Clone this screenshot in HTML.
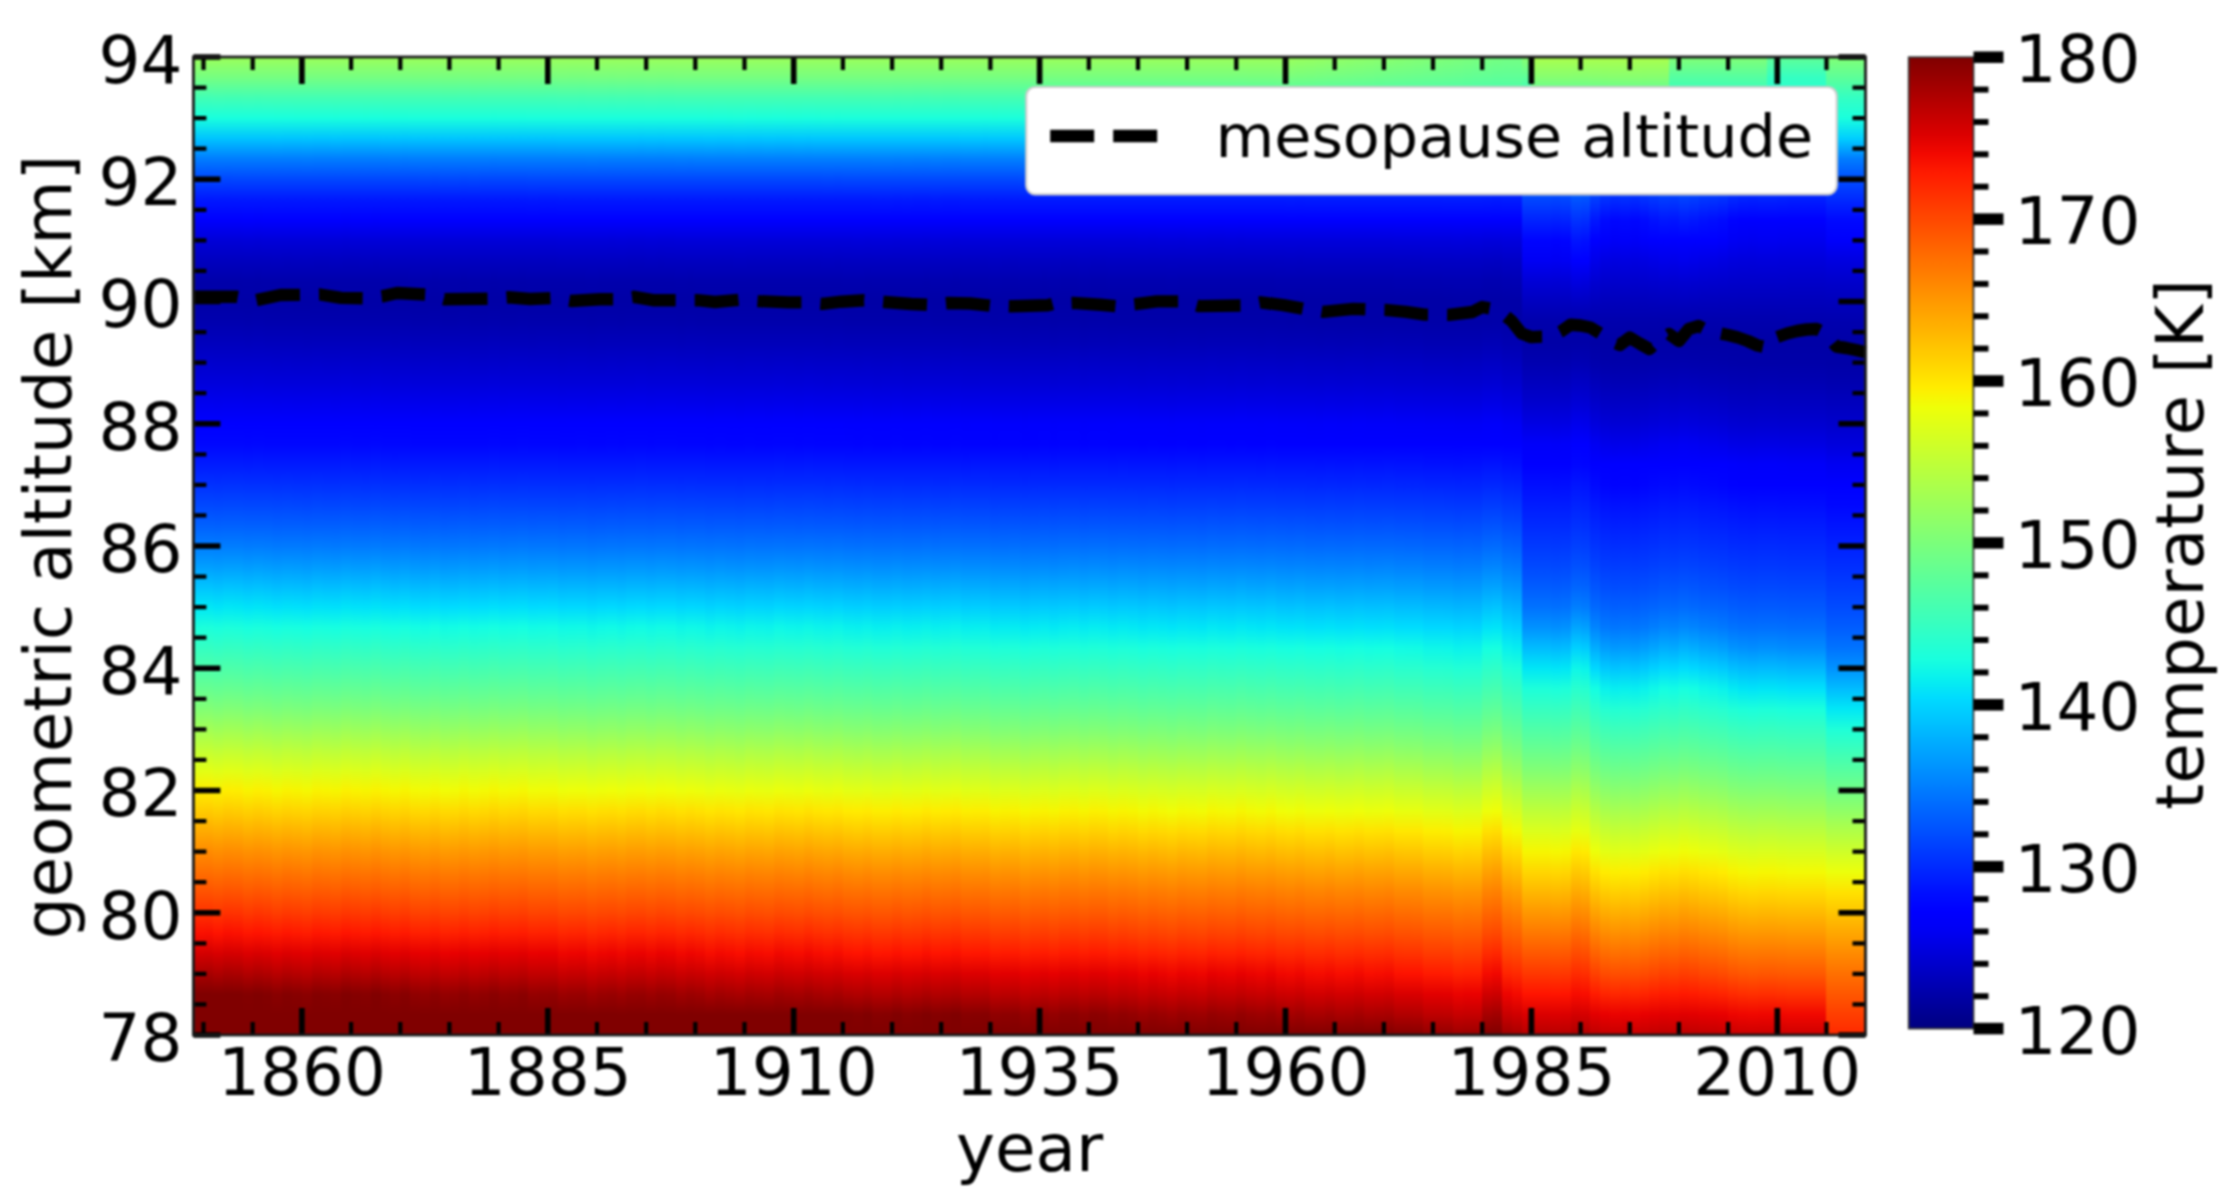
<!DOCTYPE html>
<html><head><meta charset="utf-8"><title>mesopause altitude</title>
<style>html,body{margin:0;padding:0;background:#fff;overflow:hidden}#w{position:relative;width:2228px;height:1203px;overflow:hidden;background:#fff;filter:blur(0.95px)}#h{position:absolute;left:0;top:57.0px;height:978.0px}#h i{position:absolute;top:0;height:100%;display:block}svg{position:absolute;left:0;top:0;display:block}text{font-family:"DejaVu Sans","Liberation Sans",sans-serif;fill:#000}</style></head>
<body>
<div id="w">
<div id="h">
<i style="left:193.70px;width:10.64px;background:linear-gradient(#9cff5a,#76ff81,#42ffb4,#19ffde,#00c4ff,#007dff,#0047ff,#0018ff,#0000fe,#0000d8,#0000bf,#0000ab,#0000a7,#0000af,#0000bd,#0000cc,#0000dc,#0000ef,#0000ff,#0007ff,#001bff,#0031ff,#0048ff,#0061ff,#007dff,#009eff,#00c3ff,#01e7f6,#1bffdb,#34ffc3,#4dffaa,#66ff91,#81ff75,#a1ff56,#c2ff35,#e0ff16,#feed00,#ffcc00,#ffab00,#ff8c00,#ff6f00,#ff5200,#ff3200,#fb1000,#d40000,#a80000,#800000,#800000,#800000)"></i>
<i style="left:203.54px;width:10.64px;background:linear-gradient(#9cff5a,#76ff81,#42ffb5,#19ffde,#00c4ff,#007dff,#0046ff,#0018ff,#0000fe,#0000d8,#0000bf,#0000ab,#0000a7,#0000af,#0000bd,#0000cd,#0000dc,#0000ef,#0000ff,#0007ff,#001bff,#0031ff,#0048ff,#0061ff,#007dff,#009eff,#00c3ff,#01e7f5,#1cffdb,#34ffc2,#4dffaa,#66ff91,#82ff75,#a2ff55,#c2ff34,#e1ff16,#ffed00,#ffcb00,#ffab00,#ff8b00,#ff6f00,#ff5200,#ff3200,#fa0f00,#d30000,#a70000,#800000,#800000,#800000)"></i>
<i style="left:213.38px;width:10.64px;background:linear-gradient(#9cff5a,#76ff81,#43ffb4,#19ffde,#00c4ff,#007dff,#0047ff,#0018ff,#0000fe,#0000d8,#0000bf,#0000ab,#0000a7,#0000af,#0000bd,#0000cc,#0000dc,#0000ee,#0000ff,#0007ff,#001bff,#0030ff,#0047ff,#0060ff,#007cff,#009cff,#00c0ff,#00e4f8,#1affdd,#32ffc5,#4bffac,#64ff93,#7fff78,#9eff58,#bfff38,#deff19,#fbf000,#ffcf00,#ffae00,#ff8f00,#ff7200,#ff5500,#ff3600,#ff1300,#d80000,#ae0000,#800000,#800000,#800000)"></i>
<i style="left:223.21px;width:10.64px;background:linear-gradient(#9cff5a,#76ff81,#42ffb4,#19ffde,#00c4ff,#007dff,#0046ff,#0018ff,#0000fe,#0000d8,#0000bf,#0000ab,#0000a7,#0000af,#0000bd,#0000cc,#0000dc,#0000ef,#0000ff,#0007ff,#001bff,#0031ff,#0048ff,#0061ff,#007dff,#009eff,#00c3ff,#01e7f6,#1cffdb,#34ffc2,#4dffaa,#66ff91,#82ff75,#a1ff55,#c2ff35,#e1ff16,#feed00,#ffcb00,#ffab00,#ff8c00,#ff6f00,#ff5200,#ff3200,#fb0f00,#d40000,#a80000,#800000,#800000,#800000)"></i>
<i style="left:233.05px;width:10.64px;background:linear-gradient(#9cff5a,#76ff81,#42ffb4,#19ffde,#00c4ff,#007dff,#0047ff,#0018ff,#0000fe,#0000d8,#0000bf,#0000ab,#0000a7,#0000af,#0000bd,#0000cc,#0000dc,#0000ef,#0000ff,#0007ff,#001bff,#0031ff,#0048ff,#0061ff,#007dff,#009eff,#00c2ff,#00e6f6,#1bffdc,#34ffc3,#4cffab,#65ff92,#81ff76,#a0ff56,#c1ff36,#e0ff17,#fdee00,#ffcd00,#ffac00,#ff8d00,#ff7000,#ff5300,#ff3300,#fc1100,#d50000,#aa0000,#800000,#800000,#800000)"></i>
<i style="left:242.88px;width:10.64px;background:linear-gradient(#9cff5a,#76ff81,#43ffb4,#19ffde,#00c4ff,#007dff,#0047ff,#0018ff,#0000ff,#0000d9,#0000bf,#0000ac,#0000a7,#0000ae,#0000bc,#0000cc,#0000db,#0000ee,#0000ff,#0006ff,#001aff,#0030ff,#0047ff,#0060ff,#007bff,#009bff,#00bfff,#00e3f9,#18ffdf,#31ffc6,#49ffae,#62ff95,#7dff7a,#9cff5b,#bdff3a,#dcff1b,#f9f300,#ffd100,#ffb100,#ff9100,#ff7400,#ff5800,#ff3900,#ff1600,#dc0000,#b20000,#830000,#800000,#800000)"></i>
<i style="left:252.72px;width:10.64px;background:linear-gradient(#9cff5a,#76ff81,#42ffb4,#19ffde,#00c4ff,#007dff,#0047ff,#0018ff,#0000fe,#0000d8,#0000bf,#0000ab,#0000a7,#0000af,#0000bd,#0000cc,#0000dc,#0000ee,#0000ff,#0007ff,#001bff,#0030ff,#0047ff,#0060ff,#007cff,#009dff,#00c1ff,#00e5f7,#1affdd,#32ffc4,#4bffac,#64ff93,#7fff78,#9fff58,#bfff37,#deff19,#fcf000,#ffce00,#ffae00,#ff8f00,#ff7200,#ff5500,#ff3500,#ff1300,#d80000,#ad0000,#800000,#800000,#800000)"></i>
<i style="left:262.56px;width:10.64px;background:linear-gradient(#9cff5a,#76ff81,#43ffb4,#19ffde,#00c4ff,#007dff,#0047ff,#0018ff,#0000ff,#0000d9,#0000bf,#0000ac,#0000a7,#0000ae,#0000bc,#0000cc,#0000db,#0000ee,#0000ff,#0006ff,#001aff,#0030ff,#0047ff,#0060ff,#007bff,#009bff,#00bfff,#00e3f9,#18ffde,#31ffc6,#49ffad,#62ff94,#7dff79,#9cff5a,#bdff3a,#dcff1b,#faf200,#ffd100,#ffb000,#ff9100,#ff7400,#ff5700,#ff3800,#ff1600,#db0000,#b10000,#830000,#800000,#800000)"></i>
<i style="left:272.39px;width:10.64px;background:linear-gradient(#9cff5a,#76ff81,#43ffb4,#19ffdd,#00c5ff,#007dff,#0047ff,#0018ff,#0000ff,#0000d9,#0000c0,#0000ac,#0000a6,#0000ae,#0000bc,#0000cb,#0000db,#0000ed,#0000ff,#0006ff,#001aff,#002fff,#0046ff,#005eff,#0079ff,#0099ff,#00bcff,#00e0fb,#16ffe1,#2fffc8,#47ffb0,#60ff97,#7aff7d,#99ff5e,#b9ff3d,#d8ff1f,#f6f701,#ffd500,#ffb400,#ff9500,#ff7800,#ff5b00,#ff3d00,#ff1a00,#e10000,#b80000,#890000,#800000,#800000)"></i>
<i style="left:282.23px;width:10.64px;background:linear-gradient(#9cff5a,#76ff81,#43ffb4,#19ffde,#00c4ff,#007dff,#0047ff,#0018ff,#0000ff,#0000d9,#0000bf,#0000ac,#0000a7,#0000ae,#0000bc,#0000cc,#0000db,#0000ee,#0000ff,#0006ff,#001aff,#0030ff,#0047ff,#005fff,#007aff,#009bff,#00beff,#00e2f9,#18ffdf,#31ffc6,#49ffae,#62ff95,#7dff7a,#9cff5b,#bdff3a,#dbff1c,#f9f300,#ffd200,#ffb100,#ff9200,#ff7400,#ff5800,#ff3900,#ff1600,#dc0000,#b20000,#840000,#800000,#800000)"></i>
<i style="left:292.06px;width:10.64px;background:linear-gradient(#9cff5a,#76ff81,#43ffb4,#19ffdd,#00c4ff,#007dff,#0047ff,#0018ff,#0000ff,#0000d9,#0000c0,#0000ac,#0000a6,#0000ae,#0000bc,#0000cb,#0000db,#0000ed,#0000ff,#0006ff,#001aff,#002fff,#0046ff,#005fff,#007aff,#009aff,#00bdff,#00e1fb,#17ffe0,#2fffc7,#48ffaf,#60ff96,#7bff7c,#9aff5d,#bbff3c,#d9ff1d,#f7f500,#ffd400,#ffb300,#ff9400,#ff7600,#ff5a00,#ff3b00,#ff1900,#df0000,#b60000,#870000,#800000,#800000)"></i>
<i style="left:301.90px;width:10.64px;background:linear-gradient(#9cff5a,#76ff81,#43ffb4,#19ffdd,#00c5ff,#007eff,#0047ff,#0018ff,#0000ff,#0000d9,#0000c0,#0000ac,#0000a6,#0000ae,#0000bb,#0000cb,#0000db,#0000ed,#0000ff,#0006ff,#001aff,#002fff,#0045ff,#005eff,#0079ff,#0098ff,#00bbff,#00dffc,#15ffe2,#2effc9,#46ffb1,#5fff98,#79ff7d,#98ff5f,#b8ff3e,#d7ff20,#f5f802,#ffd600,#ffb600,#ff9600,#ff7900,#ff5c00,#ff3e00,#ff1c00,#e20000,#ba0000,#8b0000,#800000,#800000)"></i>
<i style="left:311.74px;width:10.64px;background:linear-gradient(#9cff5a,#76ff81,#43ffb4,#19ffde,#00c4ff,#007dff,#0047ff,#0018ff,#0000ff,#0000d9,#0000bf,#0000ac,#0000a7,#0000ae,#0000bc,#0000cc,#0000db,#0000ee,#0000ff,#0006ff,#001aff,#0030ff,#0047ff,#005fff,#007bff,#009bff,#00bfff,#00e2f9,#18ffdf,#31ffc6,#49ffae,#62ff95,#7dff7a,#9cff5b,#bdff3a,#dbff1b,#f9f300,#ffd200,#ffb100,#ff9100,#ff7400,#ff5800,#ff3900,#ff1600,#dc0000,#b20000,#840000,#800000,#800000)"></i>
<i style="left:321.57px;width:10.64px;background:linear-gradient(#9cff5a,#76ff81,#43ffb4,#19ffde,#00c4ff,#007dff,#0047ff,#0018ff,#0000ff,#0000d9,#0000bf,#0000ac,#0000a6,#0000ae,#0000bc,#0000cb,#0000db,#0000ee,#0000ff,#0006ff,#001aff,#002fff,#0046ff,#005fff,#007aff,#009aff,#00bdff,#00e1fa,#17ffe0,#30ffc7,#48ffaf,#61ff96,#7cff7b,#9bff5c,#bbff3c,#daff1d,#f8f500,#ffd300,#ffb200,#ff9300,#ff7600,#ff5900,#ff3b00,#ff1800,#de0000,#b50000,#860000,#800000,#800000)"></i>
<i style="left:331.41px;width:10.64px;background:linear-gradient(#9cff5a,#76ff81,#43ffb4,#19ffdd,#00c5ff,#007dff,#0047ff,#0018ff,#0000ff,#0000d9,#0000c0,#0000ac,#0000a6,#0000ae,#0000bc,#0000cb,#0000db,#0000ed,#0000ff,#0006ff,#001aff,#002fff,#0046ff,#005fff,#0079ff,#0099ff,#00bdff,#00e0fb,#16ffe1,#2fffc8,#47ffb0,#60ff97,#7bff7c,#99ff5d,#baff3d,#d9ff1e,#f6f600,#ffd400,#ffb400,#ff9400,#ff7700,#ff5b00,#ff3c00,#ff1a00,#e00000,#b70000,#880000,#800000,#800000)"></i>
<i style="left:341.24px;width:10.64px;background:linear-gradient(#9cff5a,#76ff81,#43ffb4,#19ffde,#00c4ff,#007dff,#0047ff,#0018ff,#0000fe,#0000d8,#0000bf,#0000ac,#0000a7,#0000ae,#0000bc,#0000cc,#0000dc,#0000ee,#0000ff,#0007ff,#001bff,#0030ff,#0047ff,#0060ff,#007bff,#009cff,#00c0ff,#00e4f8,#19ffde,#32ffc5,#4affad,#63ff94,#7eff78,#9eff59,#beff38,#ddff1a,#fbf100,#ffd000,#ffaf00,#ff9000,#ff7300,#ff5600,#ff3700,#ff1400,#d90000,#af0000,#810000,#800000,#800000)"></i>
<i style="left:351.08px;width:10.64px;background:linear-gradient(#9cff5a,#76ff81,#43ffb4,#19ffde,#00c4ff,#007dff,#0047ff,#0018ff,#0000ff,#0000d9,#0000bf,#0000ac,#0000a7,#0000ae,#0000bc,#0000cb,#0000db,#0000ee,#0000ff,#0006ff,#001aff,#0030ff,#0046ff,#005fff,#007aff,#009aff,#00beff,#00e2fa,#18ffdf,#30ffc6,#49ffae,#62ff95,#7cff7a,#9bff5b,#bcff3b,#dbff1c,#f9f400,#ffd200,#ffb100,#ff9200,#ff7500,#ff5800,#ff3900,#ff1700,#dd0000,#b30000,#850000,#800000,#800000)"></i>
<i style="left:360.92px;width:10.64px;background:linear-gradient(#9cff5a,#76ff81,#43ffb4,#19ffdd,#00c4ff,#007dff,#0047ff,#0018ff,#0000ff,#0000d9,#0000c0,#0000ac,#0000a6,#0000ae,#0000bc,#0000cb,#0000db,#0000ed,#0000ff,#0006ff,#001aff,#002fff,#0046ff,#005fff,#007aff,#009aff,#00bdff,#00e1fb,#17ffe0,#2fffc7,#48ffaf,#60ff96,#7bff7b,#9aff5d,#bbff3c,#d9ff1d,#f7f500,#ffd400,#ffb300,#ff9400,#ff7600,#ff5a00,#ff3b00,#ff1900,#df0000,#b60000,#870000,#800000,#800000)"></i>
<i style="left:370.75px;width:10.64px;background:linear-gradient(#9cff5a,#76ff81,#43ffb4,#19ffde,#00c4ff,#007dff,#0047ff,#0018ff,#0000fe,#0000d9,#0000bf,#0000ac,#0000a7,#0000ae,#0000bc,#0000cc,#0000dc,#0000ee,#0000ff,#0007ff,#001bff,#0030ff,#0047ff,#0060ff,#007bff,#009cff,#00c0ff,#00e3f8,#19ffde,#32ffc5,#4affad,#63ff94,#7eff79,#9dff5a,#beff39,#ddff1a,#faf200,#ffd000,#ffaf00,#ff9000,#ff7300,#ff5700,#ff3700,#ff1500,#da0000,#b00000,#810000,#800000,#800000)"></i>
<i style="left:380.59px;width:10.64px;background:linear-gradient(#9cff5a,#76ff81,#43ffb4,#19ffdd,#00c5ff,#007dff,#0047ff,#0018ff,#0000ff,#0000d9,#0000c0,#0000ac,#0000a6,#0000ae,#0000bc,#0000cb,#0000db,#0000ed,#0000ff,#0006ff,#001aff,#002fff,#0046ff,#005fff,#0079ff,#0099ff,#00bdff,#00e0fb,#16ffe0,#2fffc8,#47ffb0,#60ff97,#7bff7c,#99ff5d,#baff3d,#d9ff1e,#f7f600,#ffd400,#ffb400,#ff9400,#ff7700,#ff5b00,#ff3c00,#ff1900,#e00000,#b70000,#880000,#800000,#800000)"></i>
<i style="left:390.42px;width:10.64px;background:linear-gradient(#9cff5a,#76ff81,#43ffb4,#19ffdd,#00c5ff,#007eff,#0047ff,#0018ff,#0000ff,#0000d9,#0000c0,#0000ac,#0000a6,#0000ae,#0000bb,#0000cb,#0000da,#0000ed,#0000ff,#0006ff,#0019ff,#002fff,#0045ff,#005eff,#0079ff,#0098ff,#00bbff,#00dffc,#15ffe2,#2effc9,#46ffb1,#5fff98,#79ff7e,#98ff5f,#b8ff3e,#d7ff20,#f5f802,#ffd600,#ffb600,#ff9600,#ff7900,#ff5c00,#ff3e00,#ff1c00,#e20000,#ba0000,#8c0000,#800000,#800000)"></i>
<i style="left:400.26px;width:10.64px;background:linear-gradient(#9cff5a,#76ff81,#43ffb4,#19ffdd,#00c4ff,#007dff,#0047ff,#0018ff,#0000ff,#0000d9,#0000c0,#0000ac,#0000a6,#0000ae,#0000bc,#0000cb,#0000db,#0000ed,#0000ff,#0006ff,#001aff,#002fff,#0046ff,#005fff,#007aff,#009aff,#00bdff,#00e1fb,#17ffe0,#2fffc7,#48ffaf,#60ff96,#7bff7c,#9aff5d,#bbff3c,#d9ff1d,#f7f500,#ffd400,#ffb300,#ff9400,#ff7600,#ff5a00,#ff3b00,#ff1900,#df0000,#b60000,#870000,#800000,#800000)"></i>
<i style="left:410.10px;width:10.64px;background:linear-gradient(#9cff5a,#76ff80,#43ffb4,#1affdd,#00c5ff,#007eff,#0047ff,#0018ff,#0000ff,#0000d9,#0000c0,#0000ad,#0000a6,#0000ad,#0000bb,#0000ca,#0000da,#0000ed,#0000ff,#0005ff,#0019ff,#002eff,#0045ff,#005dff,#0078ff,#0097ff,#00baff,#00ddfe,#14fee3,#2cffca,#45ffb2,#5dff9a,#78ff7f,#96ff61,#b6ff41,#d5ff22,#f3fa04,#ffd900,#ffb800,#ff9800,#ff7b00,#ff5f00,#ff4100,#ff1f00,#e50000,#be0000,#900000,#800000,#800000)"></i>
<i style="left:419.93px;width:10.64px;background:linear-gradient(#9cff5a,#76ff80,#43ffb4,#1affdd,#00c5ff,#007eff,#0048ff,#0018ff,#0000ff,#0000d9,#0000c0,#0000ad,#0000a6,#0000ad,#0000bb,#0000ca,#0000da,#0000ec,#0000ff,#0005ff,#0019ff,#002eff,#0045ff,#005dff,#0077ff,#0096ff,#00b9ff,#00dcfe,#13fde4,#2cffcb,#44ffb3,#5cff9b,#77ff80,#94ff62,#b5ff42,#d4ff23,#f2fb05,#ffda00,#ffb900,#ff9a00,#ff7c00,#ff6000,#ff4200,#ff2000,#e70000,#c00000,#920000,#800000,#800000)"></i>
<i style="left:429.77px;width:10.64px;background:linear-gradient(#9cff5a,#76ff81,#43ffb4,#1affdd,#00c5ff,#007eff,#0047ff,#0018ff,#0000ff,#0000d9,#0000c0,#0000ac,#0000a6,#0000ae,#0000bb,#0000cb,#0000da,#0000ed,#0000ff,#0005ff,#0019ff,#002fff,#0045ff,#005eff,#0078ff,#0098ff,#00bbff,#00defd,#15ffe2,#2dffc9,#46ffb1,#5eff99,#79ff7e,#97ff60,#b8ff3f,#d6ff20,#f4f903,#ffd700,#ffb600,#ff9700,#ff7900,#ff5d00,#ff3f00,#ff1d00,#e30000,#bb0000,#8d0000,#800000,#800000)"></i>
<i style="left:439.60px;width:10.64px;background:linear-gradient(#9cff5a,#76ff80,#43ffb3,#1affdd,#00c5ff,#007eff,#0048ff,#0018ff,#0000ff,#0000d9,#0000c0,#0000ad,#0000a6,#0000ad,#0000bb,#0000ca,#0000da,#0000ec,#0000ff,#0005ff,#0019ff,#002eff,#0044ff,#005cff,#0077ff,#0095ff,#00b8ff,#00dbff,#12fce4,#2bffcc,#43ffb4,#5bff9b,#76ff81,#93ff64,#b4ff43,#d3ff24,#f1fd06,#ffdb00,#ffbb00,#ff9b00,#ff7d00,#ff6100,#ff4300,#ff2200,#e90100,#c20000,#940000,#800000,#800000)"></i>
<i style="left:449.44px;width:10.64px;background:linear-gradient(#9cff5a,#76ff80,#43ffb3,#1affdd,#00c5ff,#007eff,#0048ff,#0018ff,#0000ff,#0000d9,#0000c0,#0000ad,#0000a6,#0000ad,#0000bb,#0000ca,#0000da,#0000ec,#0000ff,#0005ff,#0019ff,#002eff,#0044ff,#005dff,#0077ff,#0096ff,#00b8ff,#00dcff,#13fde4,#2bffcc,#43ffb4,#5cff9b,#76ff81,#94ff63,#b4ff42,#d3ff24,#f1fc06,#ffdb00,#ffba00,#ff9a00,#ff7d00,#ff6100,#ff4300,#ff2100,#e80000,#c10000,#930000,#800000,#800000)"></i>
<i style="left:459.28px;width:10.64px;background:linear-gradient(#9cff5a,#76ff81,#43ffb4,#1affdd,#00c5ff,#007eff,#0047ff,#0018ff,#0000ff,#0000d9,#0000c0,#0000ac,#0000a6,#0000ae,#0000bb,#0000cb,#0000da,#0000ed,#0000ff,#0005ff,#0019ff,#002fff,#0045ff,#005eff,#0078ff,#0098ff,#00bbff,#00defd,#15ffe2,#2dffc9,#46ffb1,#5eff98,#79ff7e,#97ff60,#b8ff3f,#d7ff20,#f4f802,#ffd700,#ffb600,#ff9700,#ff7900,#ff5d00,#ff3f00,#ff1d00,#e30000,#bb0000,#8d0000,#800000,#800000)"></i>
<i style="left:469.11px;width:10.64px;background:linear-gradient(#9cff5a,#76ff80,#43ffb3,#1affdd,#00c5ff,#007eff,#0048ff,#0018ff,#0000ff,#0000d9,#0000c0,#0000ad,#0000a6,#0000ad,#0000bb,#0000ca,#0000da,#0000ec,#0000ff,#0005ff,#0019ff,#002eff,#0044ff,#005dff,#0077ff,#0096ff,#00b9ff,#00dcff,#13fde4,#2bffcb,#43ffb3,#5cff9b,#76ff81,#94ff63,#b5ff42,#d4ff23,#f1fc06,#ffdb00,#ffba00,#ff9a00,#ff7c00,#ff6000,#ff4300,#ff2100,#e80000,#c10000,#930000,#800000,#800000)"></i>
<i style="left:478.95px;width:10.64px;background:linear-gradient(#9cff5a,#76ff80,#43ffb4,#1affdd,#00c5ff,#007eff,#0047ff,#0018ff,#0000ff,#0000d9,#0000c0,#0000ad,#0000a6,#0000ad,#0000bb,#0000ca,#0000da,#0000ed,#0000ff,#0005ff,#0019ff,#002eff,#0045ff,#005dff,#0078ff,#0097ff,#00baff,#00ddfe,#14fee3,#2cffca,#44ffb2,#5dff9a,#77ff7f,#95ff61,#b6ff41,#d5ff22,#f3fa04,#ffd900,#ffb800,#ff9800,#ff7b00,#ff5f00,#ff4100,#ff1f00,#e60000,#be0000,#900000,#800000,#800000)"></i>
<i style="left:488.78px;width:10.64px;background:linear-gradient(#9cff5a,#76ff81,#43ffb4,#19ffdd,#00c5ff,#007dff,#0047ff,#0018ff,#0000ff,#0000d9,#0000c0,#0000ac,#0000a6,#0000ae,#0000bc,#0000cb,#0000db,#0000ed,#0000ff,#0006ff,#001aff,#002fff,#0046ff,#005eff,#0079ff,#0099ff,#00bcff,#00e0fc,#16ffe1,#2effc8,#47ffb0,#5fff97,#7aff7d,#98ff5e,#b9ff3e,#d8ff1f,#f6f701,#ffd500,#ffb500,#ff9500,#ff7800,#ff5c00,#ff3d00,#ff1b00,#e10000,#b80000,#8a0000,#800000,#800000)"></i>
<i style="left:498.62px;width:10.64px;background:linear-gradient(#9cff5a,#76ff80,#43ffb4,#1affdd,#00c5ff,#007eff,#0047ff,#0018ff,#0000ff,#0000d9,#0000c0,#0000ad,#0000a6,#0000ad,#0000bb,#0000ca,#0000da,#0000ec,#0000ff,#0005ff,#0019ff,#002eff,#0045ff,#005dff,#0077ff,#0096ff,#00b9ff,#00ddfe,#13fee3,#2cffcb,#44ffb3,#5dff9a,#77ff80,#95ff62,#b6ff41,#d4ff22,#f2fb05,#ffda00,#ffb900,#ff9900,#ff7b00,#ff5f00,#ff4100,#ff1f00,#e60000,#bf0000,#910000,#800000,#800000)"></i>
<i style="left:508.46px;width:10.64px;background:linear-gradient(#9cff5a,#76ff80,#43ffb4,#1affdd,#00c5ff,#007eff,#0047ff,#0018ff,#0000ff,#0000d9,#0000c0,#0000ad,#0000a6,#0000ad,#0000bb,#0000cb,#0000da,#0000ed,#0000ff,#0005ff,#0019ff,#002eff,#0045ff,#005dff,#0078ff,#0097ff,#00baff,#00defd,#14fee3,#2dffca,#45ffb2,#5eff99,#78ff7f,#96ff61,#b7ff40,#d6ff21,#f3fa03,#ffd800,#ffb700,#ff9800,#ff7a00,#ff5e00,#ff4000,#ff1e00,#e50000,#bd0000,#8f0000,#800000,#800000)"></i>
<i style="left:518.29px;width:10.64px;background:linear-gradient(#9cff5a,#76ff81,#43ffb4,#19ffdd,#00c5ff,#007eff,#0047ff,#0018ff,#0000ff,#0000d9,#0000c0,#0000ac,#0000a6,#0000ae,#0000bb,#0000cb,#0000da,#0000ed,#0000ff,#0006ff,#0019ff,#002fff,#0045ff,#005eff,#0079ff,#0098ff,#00bbff,#00dffc,#15ffe2,#2effc9,#46ffb1,#5fff98,#79ff7d,#98ff5f,#b8ff3e,#d7ff20,#f5f802,#ffd600,#ffb600,#ff9600,#ff7900,#ff5c00,#ff3e00,#ff1c00,#e20000,#ba0000,#8b0000,#800000,#800000)"></i>
<i style="left:528.13px;width:10.64px;background:linear-gradient(#9cff5a,#76ff80,#43ffb3,#1affdd,#00c5ff,#007eff,#0048ff,#0019ff,#0000ff,#0000d9,#0000c0,#0000ad,#0000a6,#0000ad,#0000ba,#0000ca,#0000da,#0000ec,#0000ff,#0005ff,#0019ff,#002eff,#0044ff,#005cff,#0077ff,#0095ff,#00b8ff,#00dbff,#12fce5,#2bffcc,#43ffb4,#5bff9c,#75ff81,#93ff64,#b4ff43,#d2ff24,#f0fd07,#ffdc00,#ffbb00,#ff9b00,#ff7d00,#ff6100,#ff4400,#ff2200,#e90100,#c20000,#950000,#800000,#800000)"></i>
<i style="left:537.96px;width:10.64px;background:linear-gradient(#9cff5a,#76ff80,#43ffb3,#1affdd,#00c5ff,#007eff,#0048ff,#0018ff,#0000ff,#0000d9,#0000c0,#0000ad,#0000a6,#0000ad,#0000bb,#0000ca,#0000da,#0000ec,#0000ff,#0005ff,#0019ff,#002eff,#0044ff,#005dff,#0077ff,#0096ff,#00b8ff,#00dcff,#13fce4,#2bffcc,#43ffb4,#5cff9b,#76ff81,#94ff63,#b4ff43,#d3ff24,#f1fc06,#ffdb00,#ffba00,#ff9a00,#ff7d00,#ff6100,#ff4300,#ff2100,#e80000,#c10000,#930000,#800000,#800000)"></i>
<i style="left:547.80px;width:10.64px;background:linear-gradient(#9cff5a,#76ff80,#43ffb4,#1affdd,#00c5ff,#007eff,#0048ff,#0018ff,#0000ff,#0000d9,#0000c0,#0000ad,#0000a6,#0000ad,#0000bb,#0000ca,#0000da,#0000ec,#0000ff,#0005ff,#0019ff,#002eff,#0044ff,#005dff,#0077ff,#0096ff,#00b9ff,#00dcfe,#13fde4,#2cffcb,#44ffb3,#5cff9b,#76ff80,#94ff63,#b5ff42,#d4ff23,#f1fc05,#ffda00,#ffba00,#ff9a00,#ff7c00,#ff6000,#ff4200,#ff2000,#e80000,#c00000,#920000,#800000,#800000)"></i>
<i style="left:557.64px;width:10.64px;background:linear-gradient(#9cff5a,#77ff80,#44ffb3,#1affdd,#00c6ff,#007eff,#0048ff,#0019ff,#0000ff,#0000da,#0000c1,#0000ad,#0000a6,#0000ad,#0000ba,#0000c9,#0000d9,#0000eb,#0000ff,#0004ff,#0018ff,#002dff,#0043ff,#005bff,#0075ff,#0093ff,#00b5ff,#00d8ff,#10f9e7,#28ffcf,#40ffb7,#58ff9e,#72ff84,#8fff68,#b0ff47,#cfff28,#ecff0a,#ffe000,#ffbf00,#ff9f00,#ff8100,#ff6500,#ff4800,#ff2700,#ef0600,#c90000,#9c0000,#800000,#800000)"></i>
<i style="left:567.47px;width:10.64px;background:linear-gradient(#9cff5a,#76ff80,#44ffb3,#1affdd,#00c6ff,#007eff,#0048ff,#0019ff,#0000ff,#0000da,#0000c1,#0000ad,#0000a6,#0000ad,#0000ba,#0000ca,#0000d9,#0000ec,#0000ff,#0004ff,#0018ff,#002dff,#0043ff,#005cff,#0076ff,#0094ff,#00b6ff,#00d9ff,#10fae6,#29ffce,#41ffb6,#59ff9d,#73ff83,#91ff66,#b1ff46,#d0ff27,#eeff09,#ffde00,#ffbe00,#ff9e00,#ff8000,#ff6400,#ff4700,#ff2500,#ed0400,#c60000,#990000,#800000,#800000)"></i>
<i style="left:577.31px;width:10.64px;background:linear-gradient(#9cff5a,#76ff80,#43ffb3,#1affdd,#00c6ff,#007eff,#0048ff,#0019ff,#0000ff,#0000da,#0000c1,#0000ad,#0000a6,#0000ad,#0000ba,#0000ca,#0000d9,#0000ec,#0000ff,#0005ff,#0018ff,#002dff,#0044ff,#005cff,#0076ff,#0094ff,#00b6ff,#00d9ff,#11fae6,#2affcd,#42ffb5,#5aff9d,#74ff83,#91ff66,#b2ff45,#d1ff26,#eeff08,#ffde00,#ffbd00,#ff9d00,#ff7f00,#ff6300,#ff4600,#ff2400,#ec0300,#c50000,#980000,#800000,#800000)"></i>
<i style="left:587.14px;width:10.64px;background:linear-gradient(#9cff5a,#77ff80,#44ffb3,#1affdd,#00c6ff,#007fff,#0048ff,#0019ff,#0000ff,#0000da,#0000c1,#0000ae,#0000a6,#0000ac,#0000b9,#0000c9,#0000d9,#0000eb,#0000ff,#0004ff,#0018ff,#002cff,#0043ff,#005aff,#0074ff,#0092ff,#00b4ff,#00d6ff,#0ef7e8,#27ffd0,#3fffb8,#57ffa0,#71ff86,#8dff69,#aeff49,#cdff2a,#ebff0c,#ffe200,#ffc100,#ffa100,#ff8300,#ff6700,#ff4a00,#ff2a00,#f20800,#cc0000,#a00000,#800000,#800000)"></i>
<i style="left:596.98px;width:10.64px;background:linear-gradient(#9cff5a,#77ff80,#44ffb3,#1affdd,#00c6ff,#007eff,#0048ff,#0019ff,#0000ff,#0000da,#0000c1,#0000ad,#0000a6,#0000ad,#0000ba,#0000c9,#0000d9,#0000ec,#0000ff,#0004ff,#0018ff,#002dff,#0043ff,#005bff,#0075ff,#0094ff,#00b6ff,#00d9ff,#10fae7,#29ffce,#41ffb6,#59ff9e,#73ff84,#90ff67,#b1ff46,#d0ff27,#edff09,#ffdf00,#ffbe00,#ff9e00,#ff8000,#ff6400,#ff4700,#ff2600,#ee0500,#c70000,#9a0000,#800000,#800000)"></i>
<i style="left:606.82px;width:10.64px;background:linear-gradient(#9cff5a,#76ff80,#43ffb3,#1affdd,#00c6ff,#007eff,#0048ff,#0019ff,#0000ff,#0000d9,#0000c1,#0000ad,#0000a6,#0000ad,#0000ba,#0000ca,#0000d9,#0000ec,#0000ff,#0005ff,#0018ff,#002dff,#0044ff,#005cff,#0076ff,#0094ff,#00b6ff,#00daff,#11fbe6,#2affcd,#42ffb5,#5aff9d,#74ff83,#91ff66,#b2ff45,#d1ff26,#efff08,#ffde00,#ffbd00,#ff9d00,#ff7f00,#ff6300,#ff4600,#ff2400,#ec0300,#c50000,#980000,#800000,#800000)"></i>
<i style="left:616.65px;width:10.64px;background:linear-gradient(#9cff5a,#77ff80,#44ffb3,#1affdd,#00c6ff,#007eff,#0048ff,#0019ff,#0000ff,#0000da,#0000c1,#0000ad,#0000a6,#0000ac,#0000ba,#0000c9,#0000d9,#0000eb,#0000ff,#0004ff,#0018ff,#002dff,#0043ff,#005bff,#0075ff,#0093ff,#00b4ff,#00d7ff,#0ff8e8,#28ffcf,#40ffb7,#58ff9f,#72ff85,#8eff68,#afff48,#ceff29,#ecff0b,#ffe100,#ffc000,#ffa000,#ff8200,#ff6600,#ff4900,#ff2800,#f00700,#ca0000,#9e0000,#800000,#800000)"></i>
<i style="left:626.49px;width:10.64px;background:linear-gradient(#9cff5a,#76ff80,#43ffb3,#1affdd,#00c6ff,#007eff,#0048ff,#0019ff,#0000ff,#0000d9,#0000c0,#0000ad,#0000a6,#0000ad,#0000ba,#0000ca,#0000d9,#0000ec,#0000ff,#0005ff,#0018ff,#002dff,#0044ff,#005cff,#0076ff,#0095ff,#00b7ff,#00daff,#11fbe5,#2affcd,#42ffb5,#5aff9c,#75ff82,#92ff65,#b2ff44,#d1ff25,#effe08,#ffdd00,#ffbc00,#ff9c00,#ff7f00,#ff6200,#ff4500,#ff2300,#eb0300,#c40000,#970000,#800000,#800000)"></i>
<i style="left:636.32px;width:10.64px;background:linear-gradient(#9cff5a,#76ff80,#43ffb3,#1affdd,#00c5ff,#007eff,#0048ff,#0019ff,#0000ff,#0000d9,#0000c0,#0000ad,#0000a6,#0000ad,#0000ba,#0000ca,#0000da,#0000ec,#0000ff,#0005ff,#0019ff,#002eff,#0044ff,#005cff,#0076ff,#0095ff,#00b7ff,#00dbff,#12fce5,#2affcc,#42ffb4,#5bff9c,#75ff82,#92ff64,#b3ff44,#d2ff25,#f0fe07,#ffdc00,#ffbb00,#ff9c00,#ff7e00,#ff6200,#ff4400,#ff2300,#ea0200,#c30000,#960000,#800000,#800000)"></i>
<i style="left:646.16px;width:10.64px;background:linear-gradient(#9cff5a,#77ff80,#44ffb3,#1affdd,#00c6ff,#007eff,#0048ff,#0019ff,#0000ff,#0000da,#0000c1,#0000ad,#0000a6,#0000ad,#0000ba,#0000c9,#0000d9,#0000eb,#0000ff,#0004ff,#0018ff,#002dff,#0043ff,#005bff,#0075ff,#0093ff,#00b5ff,#00d8ff,#10f9e7,#28ffcf,#40ffb7,#58ff9e,#72ff84,#8fff68,#b0ff47,#cfff28,#edff0a,#ffe000,#ffbf00,#ff9f00,#ff8100,#ff6500,#ff4800,#ff2700,#ef0600,#c90000,#9c0000,#800000,#800000)"></i>
<i style="left:656.00px;width:10.64px;background:linear-gradient(#9cff5a,#76ff80,#43ffb3,#1affdd,#00c5ff,#007eff,#0048ff,#0019ff,#0000ff,#0000d9,#0000c0,#0000ad,#0000a6,#0000ad,#0000ba,#0000ca,#0000d9,#0000ec,#0000ff,#0005ff,#0018ff,#002dff,#0044ff,#005cff,#0076ff,#0095ff,#00b7ff,#00daff,#12fbe5,#2affcc,#42ffb4,#5bff9c,#75ff82,#92ff64,#b3ff44,#d2ff25,#f0fe07,#ffdc00,#ffbc00,#ff9c00,#ff7e00,#ff6200,#ff4400,#ff2300,#ea0200,#c30000,#960000,#800000,#800000)"></i>
<i style="left:665.83px;width:10.64px;background:linear-gradient(#9cff5a,#76ff80,#43ffb3,#1affdd,#00c6ff,#007eff,#0048ff,#0019ff,#0000ff,#0000d9,#0000c1,#0000ad,#0000a6,#0000ad,#0000ba,#0000ca,#0000d9,#0000ec,#0000ff,#0005ff,#0018ff,#002dff,#0044ff,#005cff,#0076ff,#0094ff,#00b7ff,#00daff,#11fbe6,#2affcd,#42ffb5,#5aff9d,#74ff83,#91ff65,#b2ff45,#d1ff26,#efff08,#ffde00,#ffbd00,#ff9d00,#ff7f00,#ff6300,#ff4600,#ff2400,#ec0300,#c50000,#980000,#800000,#800000)"></i>
<i style="left:675.67px;width:10.64px;background:linear-gradient(#9cff5a,#77ff80,#44ffb3,#1affdd,#00c6ff,#007fff,#0048ff,#0019ff,#0000ff,#0000da,#0000c1,#0000ae,#0000a6,#0000ac,#0000b9,#0000c9,#0000d9,#0000eb,#0000ff,#0004ff,#0018ff,#002cff,#0043ff,#005aff,#0074ff,#0092ff,#00b4ff,#00d6ff,#0ef7e8,#27ffd0,#3fffb8,#57ffa0,#71ff86,#8dff69,#aeff49,#cdff2a,#ebff0c,#ffe200,#ffc100,#ffa100,#ff8300,#ff6700,#ff4a00,#ff2900,#f20800,#cc0000,#a00000,#800000,#800000)"></i>
<i style="left:685.50px;width:10.64px;background:linear-gradient(#9cff5a,#77ff80,#44ffb3,#1affdd,#00c6ff,#007eff,#0048ff,#0019ff,#0000ff,#0000da,#0000c1,#0000ad,#0000a6,#0000ad,#0000ba,#0000c9,#0000d9,#0000eb,#0000ff,#0004ff,#0018ff,#002dff,#0043ff,#005bff,#0075ff,#0093ff,#00b5ff,#00d8ff,#10f9e7,#29ffce,#41ffb6,#59ff9e,#73ff84,#90ff67,#b0ff47,#cfff28,#edff0a,#ffdf00,#ffbf00,#ff9f00,#ff8100,#ff6500,#ff4800,#ff2600,#ee0500,#c80000,#9b0000,#800000,#800000)"></i>
<i style="left:695.34px;width:10.64px;background:linear-gradient(#9cff5a,#77ff80,#44ffb3,#1affdd,#00c6ff,#007fff,#0048ff,#0019ff,#0000ff,#0000da,#0000c1,#0000ae,#0000a6,#0000ac,#0000ba,#0000c9,#0000d9,#0000eb,#0000ff,#0004ff,#0018ff,#002cff,#0043ff,#005bff,#0074ff,#0092ff,#00b4ff,#00d7ff,#0ff8e8,#27ffd0,#3fffb8,#57ff9f,#71ff86,#8eff69,#aeff49,#cdff2a,#ebff0c,#ffe200,#ffc100,#ffa100,#ff8300,#ff6700,#ff4a00,#ff2900,#f10800,#cb0000,#9f0000,#800000,#800000)"></i>
<i style="left:705.18px;width:10.64px;background:linear-gradient(#9cff5a,#77ff80,#44ffb3,#1affdc,#00c7ff,#007fff,#0048ff,#0019ff,#0000ff,#0000da,#0000c1,#0000ae,#0000a6,#0000ac,#0000b9,#0000c8,#0000d8,#0000ea,#0000ff,#0003ff,#0017ff,#002cff,#0042ff,#0059ff,#0073ff,#0090ff,#00b1ff,#00d3ff,#0cf4eb,#25ffd2,#3cffba,#55ffa2,#6eff89,#8aff6d,#aaff4d,#c9ff2d,#e7ff10,#ffe600,#ffc500,#ffa500,#ff8700,#ff6b00,#ff4e00,#ff2e00,#f70d00,#d10000,#a70000,#800000,#800000)"></i>
<i style="left:715.01px;width:10.64px;background:linear-gradient(#9cff5a,#77ff80,#44ffb3,#1affdd,#00c6ff,#007fff,#0048ff,#0019ff,#0000ff,#0000da,#0000c1,#0000ae,#0000a6,#0000ac,#0000b9,#0000c9,#0000d8,#0000eb,#0000ff,#0004ff,#0017ff,#002cff,#0042ff,#005aff,#0074ff,#0092ff,#00b3ff,#00d6ff,#0ef7e9,#27ffd0,#3effb8,#57ffa0,#70ff87,#8dff6a,#adff4a,#ccff2b,#eaff0d,#ffe300,#ffc200,#ffa200,#ff8400,#ff6800,#ff4b00,#ff2a00,#f30900,#cd0000,#a10000,#800000,#800000)"></i>
<i style="left:724.85px;width:10.64px;background:linear-gradient(#9cff5a,#77ff80,#44ffb3,#1affdc,#00c6ff,#007fff,#0048ff,#0019ff,#0000ff,#0000da,#0000c1,#0000ae,#0000a6,#0000ac,#0000b9,#0000c9,#0000d8,#0000eb,#0000ff,#0003ff,#0017ff,#002cff,#0042ff,#005aff,#0073ff,#0090ff,#00b2ff,#00d4ff,#0df5ea,#25ffd2,#3dffba,#55ffa2,#6fff88,#8bff6c,#abff4c,#caff2c,#e8ff0f,#ffe500,#ffc400,#ffa400,#ff8600,#ff6a00,#ff4d00,#ff2d00,#f60b00,#d00000,#a50000,#800000,#800000)"></i>
<i style="left:734.68px;width:10.64px;background:linear-gradient(#9cff5a,#77ff80,#44ffb3,#1bffdc,#00c7ff,#007fff,#0048ff,#0019ff,#0000ff,#0000da,#0000c2,#0000ae,#0000a6,#0000ac,#0000b9,#0000c8,#0000d8,#0000ea,#0000ff,#0003ff,#0017ff,#002bff,#0041ff,#0059ff,#0072ff,#008fff,#00b0ff,#00d2ff,#0bf3ec,#24ffd3,#3bffbb,#53ffa3,#6dff8a,#89ff6e,#a8ff4e,#c8ff2f,#e6ff11,#ffe800,#ffc700,#ffa700,#ff8800,#ff6c00,#ff5000,#ff3000,#fa0e00,#d40000,#a90000,#800000,#800000)"></i>
<i style="left:744.52px;width:10.64px;background:linear-gradient(#9cff5a,#77ff80,#44ffb3,#1affdd,#00c6ff,#007fff,#0048ff,#0019ff,#0000ff,#0000da,#0000c1,#0000ae,#0000a6,#0000ac,#0000b9,#0000c9,#0000d8,#0000eb,#0000ff,#0004ff,#0017ff,#002cff,#0042ff,#005aff,#0074ff,#0091ff,#00b3ff,#00d5ff,#0ef6e9,#26ffd1,#3effb9,#56ffa0,#70ff87,#8cff6a,#adff4a,#ccff2b,#eaff0d,#ffe300,#ffc300,#ffa300,#ff8400,#ff6800,#ff4b00,#ff2b00,#f30a00,#cd0000,#a20000,#800000,#800000)"></i>
<i style="left:754.36px;width:10.64px;background:linear-gradient(#9cff5a,#77ff80,#44ffb3,#1affdc,#00c6ff,#007fff,#0048ff,#0019ff,#0000ff,#0000da,#0000c1,#0000ae,#0000a6,#0000ac,#0000b9,#0000c9,#0000d8,#0000eb,#0000ff,#0003ff,#0017ff,#002cff,#0042ff,#005aff,#0073ff,#0090ff,#00b2ff,#00d4ff,#0df5ea,#25ffd2,#3dffba,#55ffa2,#6fff88,#8bff6c,#abff4c,#caff2c,#e8ff0f,#ffe500,#ffc400,#ffa400,#ff8600,#ff6a00,#ff4d00,#ff2d00,#f60b00,#d00000,#a50000,#800000,#800000)"></i>
<i style="left:764.19px;width:10.64px;background:linear-gradient(#9cff5a,#77ff80,#44ffb3,#1affdc,#00c7ff,#007fff,#0048ff,#0019ff,#0000ff,#0000da,#0000c1,#0000ae,#0000a6,#0000ac,#0000b9,#0000c8,#0000d8,#0000ea,#0000ff,#0003ff,#0017ff,#002bff,#0041ff,#0059ff,#0073ff,#0090ff,#00b1ff,#00d3ff,#0cf4eb,#24ffd2,#3cffbb,#54ffa3,#6eff89,#8aff6d,#aaff4d,#c9ff2e,#e7ff10,#ffe700,#ffc600,#ffa600,#ff8700,#ff6b00,#ff4f00,#ff2f00,#f80d00,#d20000,#a70000,#800000,#800000)"></i>
<i style="left:774.03px;width:10.64px;background:linear-gradient(#9cff5a,#77ff80,#44ffb3,#1affdd,#00c6ff,#007fff,#0048ff,#0019ff,#0000ff,#0000da,#0000c1,#0000ae,#0000a6,#0000ac,#0000b9,#0000c9,#0000d9,#0000eb,#0000ff,#0004ff,#0018ff,#002cff,#0043ff,#005aff,#0074ff,#0092ff,#00b4ff,#00d7ff,#0ff8e8,#27ffd0,#3fffb8,#57ffa0,#71ff86,#8eff69,#aeff49,#cdff2a,#ebff0c,#ffe200,#ffc100,#ffa100,#ff8300,#ff6700,#ff4a00,#ff2900,#f10800,#cb0000,#9f0000,#800000,#800000)"></i>
<i style="left:783.86px;width:10.64px;background:linear-gradient(#9cff5a,#77ff80,#44ffb3,#1affdc,#00c6ff,#007fff,#0048ff,#0019ff,#0000ff,#0000da,#0000c1,#0000ae,#0000a6,#0000ac,#0000b9,#0000c9,#0000d8,#0000eb,#0000ff,#0004ff,#0017ff,#002cff,#0042ff,#005aff,#0073ff,#0091ff,#00b2ff,#00d5ff,#0df6ea,#26ffd1,#3effb9,#56ffa1,#6fff87,#8cff6b,#acff4b,#cbff2c,#e9ff0e,#ffe400,#ffc300,#ffa300,#ff8500,#ff6900,#ff4c00,#ff2c00,#f50a00,#cf0000,#a30000,#800000,#800000)"></i>
<i style="left:793.70px;width:10.64px;background:linear-gradient(#9cff5a,#77ff80,#44ffb3,#1affdc,#00c7ff,#007fff,#0048ff,#0019ff,#0000ff,#0000da,#0000c1,#0000ae,#0000a6,#0000ac,#0000b9,#0000c8,#0000d8,#0000ea,#0000ff,#0003ff,#0017ff,#002cff,#0042ff,#0059ff,#0073ff,#0090ff,#00b1ff,#00d4ff,#0cf5ea,#25ffd2,#3dffba,#55ffa2,#6eff89,#8aff6c,#aaff4c,#caff2d,#e7ff0f,#ffe600,#ffc500,#ffa500,#ff8700,#ff6a00,#ff4e00,#ff2e00,#f70c00,#d10000,#a60000,#800000,#800000)"></i>
<i style="left:803.54px;width:10.64px;background:linear-gradient(#9cff5a,#77ff80,#44ffb3,#1affdd,#00c6ff,#007fff,#0048ff,#0019ff,#0000ff,#0000da,#0000c1,#0000ae,#0000a6,#0000ac,#0000b9,#0000c9,#0000d9,#0000eb,#0000ff,#0004ff,#0018ff,#002cff,#0043ff,#005aff,#0074ff,#0092ff,#00b4ff,#00d6ff,#0ef7e8,#27ffd0,#3fffb8,#57ffa0,#71ff86,#8dff69,#aeff49,#cdff2a,#ebff0c,#ffe200,#ffc100,#ffa100,#ff8300,#ff6700,#ff4a00,#ff2900,#f20800,#cc0000,#a00000,#800000,#800000)"></i>
<i style="left:813.37px;width:10.64px;background:linear-gradient(#9cff5a,#77ff80,#44ffb3,#1affdc,#00c7ff,#007fff,#0048ff,#0019ff,#0000ff,#0000da,#0000c1,#0000ae,#0000a6,#0000ac,#0000b9,#0000c8,#0000d8,#0000ea,#0000ff,#0003ff,#0017ff,#002cff,#0042ff,#0059ff,#0073ff,#0090ff,#00b1ff,#00d4ff,#0cf4eb,#25ffd2,#3dffba,#55ffa2,#6eff89,#8aff6d,#aaff4d,#c9ff2d,#e7ff10,#ffe600,#ffc500,#ffa500,#ff8700,#ff6b00,#ff4e00,#ff2e00,#f70c00,#d10000,#a60000,#800000,#800000)"></i>
<i style="left:823.21px;width:10.64px;background:linear-gradient(#9cff5a,#77ff80,#44ffb3,#1bffdc,#00c7ff,#007fff,#0049ff,#0019ff,#0000ff,#0000da,#0000c2,#0000ae,#0000a6,#0000ac,#0000b8,#0000c8,#0000d7,#0000ea,#0000ff,#0003ff,#0017ff,#002bff,#0041ff,#0059ff,#0072ff,#008fff,#00b0ff,#00d2ff,#0bf3ec,#23ffd3,#3bffbc,#53ffa4,#6cff8a,#88ff6e,#a8ff4f,#c8ff2f,#e5ff11,#ffe800,#ffc700,#ffa700,#ff8900,#ff6d00,#ff5000,#ff3100,#fa0f00,#d40000,#aa0000,#800000,#800000)"></i>
<i style="left:833.04px;width:10.64px;background:linear-gradient(#9cff5a,#77ff80,#44ffb3,#1affdc,#00c7ff,#007fff,#0048ff,#0019ff,#0000ff,#0000da,#0000c1,#0000ae,#0000a6,#0000ac,#0000b9,#0000c8,#0000d8,#0000ea,#0000ff,#0003ff,#0017ff,#002cff,#0042ff,#0059ff,#0073ff,#0090ff,#00b1ff,#00d4ff,#0cf5ea,#25ffd2,#3dffba,#55ffa2,#6eff89,#8aff6c,#aaff4c,#caff2d,#e8ff0f,#ffe600,#ffc500,#ffa500,#ff8600,#ff6a00,#ff4e00,#ff2e00,#f70c00,#d10000,#a60000,#800000,#800000)"></i>
<i style="left:842.88px;width:10.64px;background:linear-gradient(#9cff5a,#77ff80,#44ffb2,#1bffdc,#00c7ff,#007fff,#0049ff,#0019ff,#0000ff,#0000da,#0000c2,#0000af,#0000a6,#0000ab,#0000b8,#0000c8,#0000d7,#0000ea,#0000fe,#0003ff,#0016ff,#002bff,#0041ff,#0058ff,#0071ff,#008eff,#00aeff,#00d0ff,#09f1ed,#22ffd5,#3affbd,#52ffa5,#6bff8c,#86ff71,#a6ff51,#c5ff31,#e3ff14,#ffeb00,#ffca00,#ffaa00,#ff8b00,#ff6f00,#ff5300,#ff3300,#fd1200,#d80000,#ae0000,#810000,#800000)"></i>
<i style="left:852.72px;width:10.64px;background:linear-gradient(#9cff5a,#77ff80,#44ffb2,#1bffdc,#00c7ff,#007fff,#0049ff,#0019ff,#0000ff,#0000db,#0000c2,#0000af,#0000a6,#0000ab,#0000b8,#0000c7,#0000d7,#0000e9,#0000fe,#0002ff,#0016ff,#002aff,#0040ff,#0057ff,#0070ff,#008dff,#00adff,#00cfff,#08f0ee,#21ffd6,#39ffbe,#51ffa6,#6aff8d,#85ff72,#a4ff52,#c4ff33,#e2ff15,#ffec00,#ffcc00,#ffab00,#ff8d00,#ff7000,#ff5400,#ff3500,#ff1300,#da0000,#b10000,#840000,#800000)"></i>
<i style="left:862.55px;width:10.64px;background:linear-gradient(#9cff5a,#77ff80,#44ffb2,#1bffdc,#00c7ff,#007fff,#0049ff,#0019ff,#0000ff,#0000da,#0000c2,#0000ae,#0000a6,#0000ab,#0000b8,#0000c8,#0000d7,#0000ea,#0000fe,#0003ff,#0016ff,#002bff,#0041ff,#0058ff,#0071ff,#008eff,#00afff,#00d1ff,#0af2ed,#23ffd4,#3affbc,#52ffa4,#6bff8b,#87ff70,#a7ff50,#c6ff30,#e4ff13,#ffea00,#ffc900,#ffa900,#ff8a00,#ff6e00,#ff5200,#ff3200,#fc1000,#d60000,#ad0000,#800000,#800000)"></i>
<i style="left:872.39px;width:10.64px;background:linear-gradient(#9cff5a,#77ff80,#45ffb2,#1bffdc,#00c7ff,#0080ff,#0049ff,#001aff,#0000ff,#0000db,#0000c2,#0000af,#0000a6,#0000ab,#0000b8,#0000c7,#0000d6,#0000e9,#0000fe,#0002ff,#0016ff,#002aff,#0040ff,#0057ff,#0070ff,#008cff,#00acff,#00ceff,#07efef,#20ffd7,#38ffbf,#4fffa7,#68ff8e,#83ff73,#a3ff54,#c2ff34,#e0ff17,#fdee00,#ffcd00,#ffad00,#ff8e00,#ff7200,#ff5600,#ff3700,#ff1600,#dc0000,#b40000,#870000,#800000)"></i>
<i style="left:882.22px;width:10.64px;background:linear-gradient(#9cff5a,#77ff80,#45ffb2,#1bffdc,#00c7ff,#0080ff,#0049ff,#001aff,#0000ff,#0000db,#0000c2,#0000af,#0000a6,#0000ab,#0000b8,#0000c7,#0000d7,#0000e9,#0000fe,#0002ff,#0016ff,#002aff,#0040ff,#0057ff,#0070ff,#008cff,#00acff,#00ceff,#08efef,#20ffd7,#38ffbf,#50ffa7,#68ff8e,#84ff73,#a3ff54,#c3ff34,#e0ff16,#fdee00,#ffcd00,#ffad00,#ff8e00,#ff7200,#ff5600,#ff3700,#ff1500,#dc0000,#b40000,#860000,#800000)"></i>
<i style="left:892.06px;width:10.64px;background:linear-gradient(#9cff5a,#77ff80,#44ffb2,#1bffdc,#00c7ff,#007fff,#0049ff,#0019ff,#0000ff,#0000da,#0000c2,#0000af,#0000a6,#0000ab,#0000b8,#0000c8,#0000d7,#0000ea,#0000fe,#0003ff,#0016ff,#002bff,#0041ff,#0058ff,#0071ff,#008eff,#00aeff,#00d0ff,#0af1ed,#22ffd5,#3affbd,#52ffa5,#6bff8c,#86ff70,#a6ff51,#c6ff31,#e3ff13,#ffeb00,#ffca00,#ffaa00,#ff8b00,#ff6f00,#ff5200,#ff3300,#fd1100,#d70000,#ae0000,#810000,#800000)"></i>
<i style="left:901.90px;width:10.64px;background:linear-gradient(#9cff5a,#77ff80,#45ffb2,#1bffdc,#00c7ff,#0080ff,#0049ff,#001aff,#0000ff,#0000db,#0000c2,#0000af,#0000a6,#0000ab,#0000b8,#0000c7,#0000d6,#0000e9,#0000fe,#0002ff,#0016ff,#002aff,#0040ff,#0057ff,#0070ff,#008cff,#00acff,#00ceff,#07efef,#20ffd7,#38ffbf,#50ffa7,#68ff8e,#84ff73,#a3ff54,#c2ff34,#e0ff17,#fdee00,#ffcd00,#ffad00,#ff8e00,#ff7200,#ff5600,#ff3700,#ff1500,#dc0000,#b40000,#870000,#800000)"></i>
<i style="left:911.73px;width:10.64px;background:linear-gradient(#9cff5a,#77ff80,#44ffb2,#1bffdc,#00c7ff,#007fff,#0049ff,#0019ff,#0000ff,#0000db,#0000c2,#0000af,#0000a6,#0000ab,#0000b8,#0000c7,#0000d7,#0000e9,#0000fe,#0002ff,#0016ff,#002aff,#0040ff,#0057ff,#0070ff,#008dff,#00adff,#00cfff,#08f0ee,#21ffd6,#39ffbe,#50ffa6,#69ff8d,#85ff72,#a4ff53,#c4ff33,#e1ff15,#feed00,#ffcc00,#ffac00,#ff8d00,#ff7100,#ff5400,#ff3600,#ff1400,#da0000,#b10000,#840000,#800000)"></i>
<i style="left:921.57px;width:10.64px;background:linear-gradient(#9cff5a,#77ff80,#44ffb3,#1bffdc,#00c7ff,#007fff,#0049ff,#0019ff,#0000ff,#0000da,#0000c2,#0000ae,#0000a6,#0000ac,#0000b8,#0000c8,#0000d7,#0000ea,#0000fe,#0003ff,#0016ff,#002bff,#0041ff,#0058ff,#0072ff,#008eff,#00afff,#00d1ff,#0af2ec,#23ffd4,#3bffbc,#53ffa4,#6cff8b,#87ff6f,#a7ff50,#c7ff30,#e4ff12,#ffe900,#ffc800,#ffa800,#ff8a00,#ff6d00,#ff5100,#ff3200,#fb1000,#d60000,#ac0000,#800000,#800000)"></i>
<i style="left:931.40px;width:10.64px;background:linear-gradient(#9cff5a,#77ff80,#45ffb2,#1bffdc,#00c7ff,#0080ff,#0049ff,#001aff,#0000ff,#0000db,#0000c2,#0000af,#0000a6,#0000ab,#0000b8,#0000c7,#0000d7,#0000e9,#0000fe,#0002ff,#0016ff,#002aff,#0040ff,#0057ff,#0070ff,#008dff,#00adff,#00cfff,#08efef,#21ffd6,#38ffbe,#50ffa7,#69ff8e,#84ff73,#a4ff53,#c3ff34,#e1ff16,#feed00,#ffcc00,#ffac00,#ff8d00,#ff7100,#ff5500,#ff3600,#ff1400,#db0000,#b20000,#850000,#800000)"></i>
<i style="left:941.24px;width:10.64px;background:linear-gradient(#9cff5a,#77ff80,#44ffb2,#1bffdc,#00c7ff,#007fff,#0049ff,#0019ff,#0000ff,#0000db,#0000c2,#0000af,#0000a6,#0000ab,#0000b8,#0000c7,#0000d7,#0000e9,#0000fe,#0002ff,#0016ff,#002aff,#0040ff,#0058ff,#0071ff,#008dff,#00aeff,#00d0ff,#09f0ee,#21ffd5,#39ffbe,#51ffa6,#6aff8d,#85ff71,#a5ff52,#c4ff32,#e2ff15,#ffec00,#ffcb00,#ffab00,#ff8c00,#ff7000,#ff5400,#ff3500,#ff1300,#d90000,#b00000,#830000,#800000)"></i>
<i style="left:951.08px;width:10.64px;background:linear-gradient(#9cff5a,#77ff80,#44ffb2,#1bffdc,#00c7ff,#007fff,#0049ff,#0019ff,#0000ff,#0000da,#0000c2,#0000ae,#0000a6,#0000ab,#0000b8,#0000c8,#0000d7,#0000ea,#0000fe,#0003ff,#0016ff,#002bff,#0041ff,#0058ff,#0071ff,#008eff,#00afff,#00d1ff,#0af2ed,#23ffd4,#3affbd,#52ffa5,#6bff8b,#87ff70,#a7ff50,#c6ff31,#e4ff13,#ffea00,#ffc900,#ffa900,#ff8a00,#ff6e00,#ff5200,#ff3200,#fc1100,#d60000,#ad0000,#800000,#800000)"></i>
<i style="left:960.91px;width:10.64px;background:linear-gradient(#9cff5a,#77ff80,#45ffb2,#1bffdc,#00c8ff,#0080ff,#0049ff,#001aff,#0000ff,#0000db,#0000c2,#0000af,#0000a6,#0000ab,#0000b7,#0000c7,#0000d6,#0000e9,#0000fd,#0002ff,#0015ff,#002aff,#0040ff,#0057ff,#0070ff,#008cff,#00acff,#00cdff,#07eef0,#20ffd7,#37ffc0,#4fffa8,#68ff8f,#83ff74,#a2ff55,#c2ff35,#dfff17,#fcef00,#ffce00,#ffae00,#ff8f00,#ff7300,#ff5700,#ff3800,#ff1700,#dd0000,#b50000,#880000,#800000)"></i>
<i style="left:970.75px;width:10.64px;background:linear-gradient(#9cff5a,#77ff80,#45ffb2,#1bffdc,#00c8ff,#0080ff,#0049ff,#001aff,#0000ff,#0000db,#0000c2,#0000af,#0000a6,#0000ab,#0000b7,#0000c7,#0000d6,#0000e9,#0000fe,#0002ff,#0016ff,#002aff,#0040ff,#0057ff,#0070ff,#008cff,#00acff,#00ceff,#07efef,#20ffd7,#38ffbf,#4fffa7,#68ff8f,#83ff73,#a3ff54,#c2ff35,#e0ff17,#fdee00,#ffce00,#ffad00,#ff8f00,#ff7200,#ff5600,#ff3700,#ff1600,#dc0000,#b40000,#870000,#800000)"></i>
<i style="left:980.58px;width:10.64px;background:linear-gradient(#9cff5a,#77ff80,#45ffb2,#1bffdc,#00c7ff,#0080ff,#0049ff,#001aff,#0000ff,#0000db,#0000c2,#0000af,#0000a6,#0000ab,#0000b8,#0000c7,#0000d7,#0000e9,#0000fe,#0002ff,#0016ff,#002aff,#0040ff,#0057ff,#0070ff,#008cff,#00acff,#00ceff,#08efef,#20ffd7,#38ffbf,#50ffa7,#69ff8e,#84ff73,#a3ff54,#c3ff34,#e0ff16,#fdee00,#ffcd00,#ffad00,#ff8e00,#ff7200,#ff5600,#ff3700,#ff1500,#dc0000,#b30000,#860000,#800000)"></i>
<i style="left:990.42px;width:10.64px;background:linear-gradient(#9cff5a,#77ff80,#45ffb2,#1bffdb,#00c8ff,#0080ff,#0049ff,#001aff,#0000ff,#0000db,#0000c3,#0000b0,#0000a6,#0000aa,#0000b7,#0000c6,#0000d6,#0000e8,#0000fd,#0001ff,#0015ff,#0029ff,#003eff,#0055ff,#006eff,#008aff,#00a9ff,#00caff,#04ebf2,#1dffda,#35ffc2,#4cffab,#65ff92,#7fff78,#9eff59,#beff39,#dbff1b,#f8f400,#ffd300,#ffb300,#ff9400,#ff7700,#ff5b00,#ff3d00,#ff1c00,#e30000,#bd0000,#900000,#800000)"></i>
<i style="left:1000.26px;width:10.64px;background:linear-gradient(#9cff5a,#77ff80,#45ffb2,#1bffdc,#00c8ff,#0080ff,#0049ff,#001aff,#0000ff,#0000db,#0000c2,#0000af,#0000a6,#0000ab,#0000b7,#0000c6,#0000d6,#0000e8,#0000fd,#0002ff,#0015ff,#0029ff,#003fff,#0056ff,#006eff,#008aff,#00aaff,#00cbff,#05ecf2,#1effd9,#35ffc2,#4dffaa,#66ff91,#80ff77,#9fff58,#bfff38,#ddff1a,#f9f200,#ffd200,#ffb100,#ff9200,#ff7600,#ff5a00,#ff3c00,#ff1a00,#e20000,#bb0000,#8e0000,#800000)"></i>
<i style="left:1010.09px;width:10.64px;background:linear-gradient(#9cff5a,#77ff80,#45ffb2,#1bffdc,#00c8ff,#0080ff,#0049ff,#001aff,#0000ff,#0000db,#0000c2,#0000af,#0000a6,#0000ab,#0000b7,#0000c6,#0000d6,#0000e8,#0000fd,#0002ff,#0015ff,#0029ff,#003fff,#0056ff,#006fff,#008aff,#00aaff,#00cbff,#05ecf1,#1effd9,#36ffc1,#4dffaa,#66ff91,#81ff76,#9fff57,#bfff38,#ddff1a,#faf200,#ffd100,#ffb100,#ff9200,#ff7500,#ff5900,#ff3b00,#ff1a00,#e10000,#ba0000,#8d0000,#800000)"></i>
<i style="left:1019.93px;width:10.64px;background:linear-gradient(#9cff5a,#77ff7f,#45ffb2,#1bffdb,#00c8ff,#0080ff,#004aff,#001aff,#0000ff,#0000db,#0000c3,#0000b0,#0000a6,#0000aa,#0000b6,#0000c6,#0000d5,#0000e7,#0000fc,#0001ff,#0014ff,#0028ff,#003eff,#0055ff,#006dff,#0088ff,#00a7ff,#00c8ff,#03e9f4,#1bffdc,#33ffc4,#4affad,#63ff94,#7dff7a,#9bff5c,#bbff3c,#d9ff1e,#f6f701,#ffd600,#ffb600,#ff9700,#ff7a00,#ff5e00,#ff4000,#ff1f00,#e70000,#c10000,#950000,#800000)"></i>
<i style="left:1029.76px;width:10.64px;background:linear-gradient(#9cff5a,#77ff80,#45ffb2,#1bffdb,#00c8ff,#0080ff,#0049ff,#001aff,#0000ff,#0000db,#0000c3,#0000b0,#0000a6,#0000aa,#0000b7,#0000c6,#0000d6,#0000e8,#0000fd,#0001ff,#0015ff,#0029ff,#003eff,#0055ff,#006eff,#0089ff,#00a9ff,#00caff,#04ebf3,#1dffda,#34ffc2,#4cffab,#65ff92,#7fff78,#9eff59,#bdff39,#dbff1c,#f8f400,#ffd300,#ffb300,#ff9400,#ff7700,#ff5b00,#ff3d00,#ff1c00,#e40000,#bd0000,#900000,#800000)"></i>
<i style="left:1039.60px;width:10.64px;background:linear-gradient(#9cff5a,#77ff80,#45ffb2,#1bffdc,#00c8ff,#0080ff,#0049ff,#001aff,#0000ff,#0000db,#0000c3,#0000af,#0000a6,#0000ab,#0000b7,#0000c6,#0000d6,#0000e8,#0000fd,#0002ff,#0015ff,#0029ff,#003fff,#0056ff,#006eff,#008aff,#00aaff,#00cbff,#05ecf2,#1dffd9,#35ffc2,#4dffaa,#65ff91,#80ff77,#9fff58,#beff38,#dcff1b,#f9f300,#ffd200,#ffb200,#ff9300,#ff7600,#ff5a00,#ff3c00,#ff1b00,#e20000,#bb0000,#8e0000,#800000)"></i>
<i style="left:1049.44px;width:10.64px;background:linear-gradient(#9cff5a,#77ff80,#45ffb2,#1bffdb,#00c8ff,#0080ff,#004aff,#001aff,#0000ff,#0000db,#0000c3,#0000b0,#0000a6,#0000aa,#0000b6,#0000c6,#0000d5,#0000e8,#0000fc,#0001ff,#0014ff,#0029ff,#003eff,#0055ff,#006dff,#0088ff,#00a8ff,#00c9ff,#03e9f4,#1cffdb,#33ffc4,#4bffac,#63ff94,#7dff79,#9cff5b,#bbff3b,#d9ff1d,#f6f601,#ffd500,#ffb500,#ff9600,#ff7900,#ff5d00,#ff4000,#ff1f00,#e70000,#c00000,#940000,#800000)"></i>
<i style="left:1059.27px;width:10.64px;background:linear-gradient(#9cff5a,#77ff80,#45ffb2,#1bffdc,#00c8ff,#0080ff,#0049ff,#001aff,#0000ff,#0000db,#0000c2,#0000af,#0000a6,#0000ab,#0000b7,#0000c6,#0000d6,#0000e8,#0000fd,#0002ff,#0015ff,#0029ff,#003fff,#0056ff,#006fff,#008aff,#00aaff,#00cbff,#05ecf2,#1effd9,#35ffc1,#4dffaa,#66ff91,#80ff76,#9fff58,#bfff38,#ddff1a,#faf200,#ffd100,#ffb100,#ff9200,#ff7500,#ff5a00,#ff3b00,#ff1a00,#e10000,#ba0000,#8d0000,#800000)"></i>
<i style="left:1069.11px;width:10.64px;background:linear-gradient(#9cff5a,#77ff80,#45ffb2,#1bffdc,#00c8ff,#0080ff,#0049ff,#001aff,#0000ff,#0000db,#0000c2,#0000af,#0000a6,#0000ab,#0000b7,#0000c7,#0000d6,#0000e8,#0000fd,#0002ff,#0015ff,#0029ff,#003fff,#0056ff,#006fff,#008bff,#00aaff,#00ccff,#06edf1,#1effd9,#36ffc1,#4effa9,#66ff91,#81ff76,#a0ff57,#c0ff37,#ddff19,#faf100,#ffd100,#ffb000,#ff9100,#ff7500,#ff5900,#ff3b00,#ff1900,#e00000,#b90000,#8c0000,#800000)"></i>
<i style="left:1078.94px;width:10.64px;background:linear-gradient(#9cff5a,#77ff80,#45ffb2,#1bffdb,#00c8ff,#0080ff,#0049ff,#001aff,#0000ff,#0000db,#0000c3,#0000b0,#0000a6,#0000aa,#0000b6,#0000c6,#0000d5,#0000e8,#0000fc,#0001ff,#0015ff,#0029ff,#003eff,#0055ff,#006eff,#0089ff,#00a8ff,#00c9ff,#04eaf3,#1cffda,#34ffc3,#4bffab,#64ff93,#7eff78,#9dff5a,#bdff3a,#daff1c,#f7f500,#ffd400,#ffb400,#ff9500,#ff7800,#ff5c00,#ff3e00,#ff1d00,#e50000,#be0000,#920000,#800000)"></i>
<i style="left:1088.78px;width:10.64px;background:linear-gradient(#9cff5a,#77ff80,#45ffb2,#1bffdc,#00c8ff,#0080ff,#0049ff,#001aff,#0000ff,#0000db,#0000c2,#0000af,#0000a6,#0000ab,#0000b7,#0000c7,#0000d6,#0000e8,#0000fd,#0002ff,#0015ff,#0029ff,#003fff,#0056ff,#006fff,#008bff,#00aaff,#00ccff,#06edf1,#1effd8,#36ffc1,#4effa9,#66ff90,#81ff76,#a0ff57,#c0ff37,#deff19,#fbf100,#ffd000,#ffb000,#ff9100,#ff7500,#ff5900,#ff3a00,#ff1900,#e00000,#b90000,#8b0000,#800000)"></i>
<i style="left:1098.62px;width:10.64px;background:linear-gradient(#9cff5a,#77ff80,#45ffb2,#1bffdc,#00c8ff,#0080ff,#0049ff,#001aff,#0000ff,#0000db,#0000c2,#0000af,#0000a6,#0000ab,#0000b7,#0000c6,#0000d6,#0000e8,#0000fd,#0002ff,#0015ff,#0029ff,#003fff,#0056ff,#006fff,#008aff,#00aaff,#00cbff,#05ecf2,#1effd9,#35ffc1,#4dffaa,#66ff91,#80ff76,#9fff58,#bfff38,#ddff1a,#faf200,#ffd100,#ffb100,#ff9200,#ff7500,#ff5900,#ff3b00,#ff1a00,#e10000,#ba0000,#8d0000,#800000)"></i>
<i style="left:1108.45px;width:10.64px;background:linear-gradient(#9cff5a,#77ff80,#45ffb2,#1bffdb,#00c8ff,#0080ff,#004aff,#001aff,#0000ff,#0000db,#0000c3,#0000b0,#0000a6,#0000aa,#0000b6,#0000c6,#0000d5,#0000e8,#0000fc,#0001ff,#0014ff,#0029ff,#003eff,#0055ff,#006dff,#0088ff,#00a7ff,#00c8ff,#03e9f4,#1bffdb,#33ffc4,#4affac,#63ff94,#7dff7a,#9bff5b,#bbff3c,#d9ff1e,#f6f601,#ffd600,#ffb500,#ff9600,#ff7900,#ff5e00,#ff4000,#ff1f00,#e70000,#c10000,#940000,#800000)"></i>
<i style="left:1118.29px;width:10.64px;background:linear-gradient(#9cff5a,#77ff80,#45ffb2,#1bffdb,#00c8ff,#0080ff,#0049ff,#001aff,#0000ff,#0000db,#0000c3,#0000b0,#0000a6,#0000aa,#0000b7,#0000c6,#0000d6,#0000e8,#0000fd,#0001ff,#0015ff,#0029ff,#003eff,#0055ff,#006eff,#008aff,#00a9ff,#00caff,#04ebf2,#1dffda,#35ffc2,#4cffab,#65ff92,#7fff78,#9eff59,#beff39,#dbff1b,#f8f400,#ffd300,#ffb300,#ff9400,#ff7700,#ff5b00,#ff3d00,#ff1c00,#e30000,#bd0000,#900000,#800000)"></i>
<i style="left:1128.12px;width:10.64px;background:linear-gradient(#9cff5a,#77ff80,#45ffb2,#1bffdb,#00c8ff,#0080ff,#004aff,#001aff,#0000ff,#0000db,#0000c3,#0000b0,#0000a6,#0000aa,#0000b6,#0000c6,#0000d5,#0000e8,#0000fc,#0001ff,#0014ff,#0029ff,#003eff,#0055ff,#006dff,#0089ff,#00a8ff,#00c9ff,#03e9f4,#1cffdb,#33ffc4,#4bffac,#63ff94,#7dff79,#9cff5b,#bcff3b,#d9ff1d,#f6f600,#ffd500,#ffb500,#ff9600,#ff7900,#ff5d00,#ff4000,#ff1e00,#e60000,#c00000,#940000,#800000)"></i>
<i style="left:1137.96px;width:10.64px;background:linear-gradient(#9cff5a,#77ff7f,#45ffb1,#1cffdb,#00c9ff,#0081ff,#004aff,#001aff,#0000ff,#0000dc,#0000c3,#0000b0,#0000a6,#0000aa,#0000b6,#0000c5,#0000d4,#0000e7,#0000fc,#0000ff,#0014ff,#0028ff,#003dff,#0054ff,#006cff,#0087ff,#00a5ff,#00c6ff,#01e6f6,#19ffde,#31ffc6,#48ffaf,#60ff97,#7aff7d,#98ff5f,#b8ff3f,#d6ff21,#f3fa04,#ffda00,#ffb900,#ff9a00,#ff7d00,#ff6100,#ff4400,#ff2300,#ec0300,#c70000,#9b0000,#800000)"></i>
<i style="left:1147.80px;width:10.64px;background:linear-gradient(#9cff5a,#77ff7f,#45ffb2,#1cffdb,#00c9ff,#0080ff,#004aff,#001aff,#0000ff,#0000db,#0000c3,#0000b0,#0000a6,#0000aa,#0000b6,#0000c6,#0000d5,#0000e7,#0000fc,#0001ff,#0014ff,#0028ff,#003eff,#0054ff,#006dff,#0088ff,#00a7ff,#00c8ff,#02e8f5,#1bffdc,#32ffc4,#4affad,#62ff95,#7cff7a,#9aff5c,#baff3c,#d8ff1f,#f5f702,#ffd700,#ffb600,#ff9700,#ff7a00,#ff5e00,#ff4100,#ff2000,#e80000,#c20000,#960000,#800000)"></i>
<i style="left:1157.63px;width:10.64px;background:linear-gradient(#9cff5a,#77ff7f,#45ffb1,#1cffdb,#00c9ff,#0081ff,#004aff,#001aff,#0000ff,#0000dc,#0000c3,#0000b0,#0000a6,#0000aa,#0000b6,#0000c5,#0000d5,#0000e7,#0000fc,#0000ff,#0014ff,#0028ff,#003dff,#0054ff,#006cff,#0087ff,#00a6ff,#00c6ff,#01e7f6,#19ffdd,#31ffc6,#48ffae,#61ff96,#7bff7c,#98ff5e,#b8ff3f,#d6ff21,#f3fa04,#ffd900,#ffb900,#ff9900,#ff7c00,#ff6100,#ff4400,#ff2300,#eb0300,#c60000,#9a0000,#800000)"></i>
<i style="left:1167.47px;width:10.64px;background:linear-gradient(#9cff5a,#77ff7f,#46ffb1,#1cffdb,#00c9ff,#0081ff,#004aff,#001aff,#0000ff,#0000dc,#0000c3,#0000b1,#0000a6,#0000aa,#0000b5,#0000c5,#0000d4,#0000e6,#0000fb,#0000ff,#0013ff,#0027ff,#003cff,#0053ff,#006bff,#0086ff,#00a4ff,#00c4ff,#00e5f8,#18ffdf,#2fffc8,#47ffb0,#5fff98,#78ff7e,#96ff61,#b6ff41,#d4ff23,#f1fd06,#ffdc00,#ffbc00,#ff9c00,#ff7f00,#ff6300,#ff4700,#ff2600,#ef0600,#ca0000,#9f0000,#800000)"></i>
<i style="left:1177.30px;width:10.64px;background:linear-gradient(#9cff5a,#77ff7f,#45ffb2,#1cffdb,#00c9ff,#0081ff,#004aff,#001aff,#0000ff,#0000db,#0000c3,#0000b0,#0000a6,#0000aa,#0000b6,#0000c5,#0000d5,#0000e7,#0000fc,#0001ff,#0014ff,#0028ff,#003dff,#0054ff,#006cff,#0087ff,#00a6ff,#00c7ff,#02e7f5,#1affdd,#32ffc5,#49ffae,#61ff95,#7cff7b,#99ff5d,#b9ff3d,#d7ff20,#f4f903,#ffd800,#ffb700,#ff9800,#ff7b00,#ff5f00,#ff4200,#ff2100,#ea0200,#c40000,#980000,#800000)"></i>
<i style="left:1187.14px;width:10.64px;background:linear-gradient(#9cff5a,#77ff7f,#45ffb1,#1cffdb,#00c9ff,#0081ff,#004aff,#001aff,#0000ff,#0000dc,#0000c3,#0000b0,#0000a6,#0000aa,#0000b6,#0000c5,#0000d4,#0000e7,#0000fc,#0000ff,#0014ff,#0028ff,#003dff,#0054ff,#006cff,#0087ff,#00a5ff,#00c6ff,#01e6f6,#19ffde,#31ffc6,#48ffaf,#60ff96,#7aff7c,#98ff5f,#b8ff3f,#d6ff21,#f3fa04,#ffda00,#ffb900,#ff9a00,#ff7d00,#ff6100,#ff4400,#ff2300,#ec0300,#c60000,#9b0000,#800000)"></i>
<i style="left:1196.98px;width:10.64px;background:linear-gradient(#9cff5a,#77ff7f,#45ffb1,#1cffdb,#00c9ff,#0081ff,#004aff,#001aff,#0000ff,#0000dc,#0000c3,#0000b0,#0000a6,#0000aa,#0000b5,#0000c5,#0000d4,#0000e7,#0000fb,#0000ff,#0013ff,#0028ff,#003dff,#0053ff,#006bff,#0086ff,#00a4ff,#00c5ff,#00e5f7,#18ffde,#30ffc7,#47ffb0,#5fff97,#79ff7e,#97ff60,#b7ff40,#d5ff22,#f1fc05,#ffdb00,#ffbb00,#ff9b00,#ff7e00,#ff6200,#ff4600,#ff2500,#ee0500,#c90000,#9d0000,#800000)"></i>
<i style="left:1206.81px;width:10.64px;background:linear-gradient(#9cff5a,#77ff7f,#45ffb2,#1bffdb,#00c8ff,#0080ff,#004aff,#001aff,#0000ff,#0000db,#0000c3,#0000b0,#0000a6,#0000aa,#0000b6,#0000c6,#0000d5,#0000e7,#0000fc,#0001ff,#0014ff,#0028ff,#003eff,#0055ff,#006dff,#0088ff,#00a7ff,#00c8ff,#03e9f4,#1bffdc,#33ffc4,#4affad,#63ff94,#7dff7a,#9bff5c,#bbff3c,#d9ff1e,#f6f701,#ffd600,#ffb600,#ff9700,#ff7a00,#ff5e00,#ff4100,#ff1f00,#e70000,#c10000,#950000,#800000)"></i>
<i style="left:1216.65px;width:10.64px;background:linear-gradient(#9cff5a,#77ff7f,#45ffb1,#1cffdb,#00c9ff,#0081ff,#004aff,#001aff,#0000ff,#0000db,#0000c3,#0000b0,#0000a6,#0000aa,#0000b6,#0000c5,#0000d5,#0000e7,#0000fc,#0001ff,#0014ff,#0028ff,#003dff,#0054ff,#006cff,#0087ff,#00a6ff,#00c7ff,#01e7f5,#1affdd,#31ffc5,#49ffae,#61ff96,#7bff7b,#99ff5e,#b9ff3e,#d7ff20,#f4f903,#ffd800,#ffb800,#ff9900,#ff7c00,#ff6000,#ff4300,#ff2200,#ea0200,#c50000,#990000,#800000)"></i>
<i style="left:1226.48px;width:10.64px;background:linear-gradient(#9cff5a,#77ff7f,#45ffb1,#1cffdb,#00c9ff,#0081ff,#004aff,#001aff,#0000ff,#0000dc,#0000c3,#0000b0,#0000a6,#0000aa,#0000b6,#0000c5,#0000d4,#0000e7,#0000fc,#0000ff,#0014ff,#0028ff,#003dff,#0054ff,#006cff,#0087ff,#00a5ff,#00c6ff,#01e6f6,#19ffde,#31ffc6,#48ffaf,#60ff96,#7aff7c,#98ff5f,#b8ff3f,#d6ff21,#f3fa04,#ffd900,#ffb900,#ff9a00,#ff7d00,#ff6100,#ff4400,#ff2300,#ec0300,#c60000,#9b0000,#800000)"></i>
<i style="left:1236.32px;width:10.64px;background:linear-gradient(#9cff5a,#77ff80,#45ffb2,#1bffdb,#00c8ff,#0080ff,#004aff,#001aff,#0000ff,#0000db,#0000c3,#0000b0,#0000a6,#0000aa,#0000b6,#0000c6,#0000d5,#0000e8,#0000fc,#0001ff,#0014ff,#0029ff,#003eff,#0055ff,#006dff,#0088ff,#00a8ff,#00c8ff,#03e9f4,#1bffdb,#33ffc4,#4bffac,#63ff94,#7dff79,#9bff5b,#bbff3b,#d9ff1e,#f6f601,#ffd500,#ffb500,#ff9600,#ff7900,#ff5d00,#ff4000,#ff1f00,#e70000,#c10000,#940000,#800000)"></i>
<i style="left:1246.16px;width:10.64px;background:linear-gradient(#9cff5a,#77ff7f,#45ffb1,#1cffdb,#00c9ff,#0081ff,#004aff,#001aff,#0000ff,#0000dc,#0000c3,#0000b0,#0000a6,#0000aa,#0000b6,#0000c5,#0000d4,#0000e7,#0000fc,#0000ff,#0014ff,#0028ff,#003dff,#0054ff,#006cff,#0087ff,#00a5ff,#00c6ff,#01e7f6,#19ffdd,#31ffc6,#48ffae,#61ff96,#7bff7c,#98ff5f,#b8ff3f,#d6ff21,#f3fa04,#ffd900,#ffb900,#ff9a00,#ff7c00,#ff6100,#ff4400,#ff2300,#eb0300,#c60000,#9a0000,#800000)"></i>
<i style="left:1255.99px;width:10.64px;background:linear-gradient(#9cff5a,#77ff7f,#45ffb1,#1cffdb,#00c9ff,#0081ff,#004aff,#001aff,#0000ff,#0000dc,#0000c3,#0000b0,#0000a6,#0000aa,#0000b5,#0000c5,#0000d4,#0000e7,#0000fb,#0000ff,#0013ff,#0028ff,#003dff,#0053ff,#006bff,#0086ff,#00a4ff,#00c5ff,#00e5f7,#18ffde,#30ffc7,#47ffb0,#5fff97,#79ff7e,#97ff60,#b6ff40,#d4ff22,#f1fc05,#ffdb00,#ffbb00,#ff9b00,#ff7e00,#ff6200,#ff4600,#ff2500,#ee0500,#c90000,#9d0000,#800000)"></i>
<i style="left:1265.83px;width:10.64px;background:linear-gradient(#9cff5a,#77ff7f,#45ffb1,#1cffdb,#00c9ff,#0081ff,#004aff,#001aff,#0000ff,#0000dc,#0000c3,#0000b0,#0000a6,#0000aa,#0000b6,#0000c5,#0000d5,#0000e7,#0000fc,#0001ff,#0014ff,#0028ff,#003dff,#0054ff,#006cff,#0087ff,#00a6ff,#00c7ff,#01e7f6,#1affdd,#31ffc5,#49ffae,#61ff96,#7bff7c,#99ff5e,#b9ff3e,#d7ff20,#f4f903,#ffd800,#ffb800,#ff9900,#ff7c00,#ff6000,#ff4300,#ff2200,#ea0200,#c50000,#990000,#800000)"></i>
<i style="left:1275.66px;width:10.64px;background:linear-gradient(#9cff5a,#78ff7f,#46ffb1,#1cffdb,#00c9ff,#0081ff,#004aff,#001aff,#0000ff,#0000dc,#0000c3,#0000b1,#0000a7,#0000aa,#0000b5,#0000c4,#0000d4,#0000e6,#0000fb,#0000ff,#0013ff,#0027ff,#003cff,#0053ff,#006bff,#0085ff,#00a3ff,#00c3ff,#00e4f8,#17ffe0,#2fffc8,#46ffb1,#5eff99,#78ff7f,#95ff62,#b5ff42,#d3ff24,#f0fe07,#ffdd00,#ffbd00,#ff9d00,#ff8000,#ff6400,#ff4800,#ff2800,#f10700,#cc0000,#a10000,#800000)"></i>
<i style="left:1285.50px;width:10.64px;background:linear-gradient(#9cff5a,#78ff7f,#46ffb1,#1cffdb,#00c9ff,#0081ff,#004aff,#001bff,#0000ff,#0000dc,#0000c4,#0000b1,#0000a7,#0000a9,#0000b5,#0000c4,#0000d4,#0000e6,#0000fb,#0000ff,#0013ff,#0027ff,#003cff,#0052ff,#006aff,#0084ff,#00a2ff,#00c2ff,#00e3f9,#16ffe1,#2effc9,#45ffb2,#5dff9a,#76ff80,#93ff64,#b3ff44,#d1ff26,#eeff09,#ffdf00,#ffbf00,#ff9f00,#ff8200,#ff6600,#ff4900,#ff2900,#f30900,#ce0000,#a40000,#800000)"></i>
<i style="left:1295.34px;width:10.64px;background:linear-gradient(#9aff5c,#76ff80,#45ffb1,#1cffdb,#00c9ff,#0081ff,#004aff,#001aff,#0000ff,#0000dc,#0000c3,#0000b1,#0000a6,#0000aa,#0000b5,#0000c5,#0000d4,#0000e6,#0000fb,#0000ff,#0013ff,#0027ff,#003cff,#0053ff,#006bff,#0085ff,#00a4ff,#00c4ff,#00e4f8,#18ffdf,#2fffc8,#46ffb0,#5fff98,#78ff7e,#95ff61,#b5ff41,#d3ff23,#f0fd06,#ffdc00,#ffbc00,#ff9d00,#ff7f00,#ff6400,#ff4700,#ff2600,#ef0600,#ca0000,#9f0000,#800000)"></i>
<i style="left:1305.17px;width:10.64px;background:linear-gradient(#99ff5e,#75ff81,#46ffb1,#1cffdb,#00caff,#0081ff,#004aff,#001bff,#0000ff,#0000dc,#0000c4,#0000b1,#0000a7,#0000a9,#0000b5,#0000c4,#0000d3,#0000e6,#0000fa,#0000ff,#0013ff,#0026ff,#003bff,#0052ff,#0069ff,#0084ff,#00a1ff,#00c1ff,#00e1fa,#15ffe2,#2dffca,#44ffb3,#5cff9b,#75ff82,#92ff65,#b1ff45,#d0ff27,#ecff0a,#ffe100,#ffc000,#ffa100,#ff8300,#ff6800,#ff4b00,#ff2c00,#f50b00,#d10000,#a70000,#800000)"></i>
<i style="left:1315.01px;width:10.64px;background:linear-gradient(#97ff60,#74ff83,#45ffb1,#1cffda,#00caff,#0081ff,#004aff,#001bff,#0000ff,#0000dc,#0000c4,#0000b1,#0000a7,#0000a9,#0000b4,#0000c4,#0000d3,#0000e5,#0000fa,#0000ff,#0012ff,#0026ff,#003bff,#0051ff,#0069ff,#0083ff,#00a1ff,#00c1ff,#00e1fb,#15ffe2,#2cffcb,#43ffb3,#5bff9c,#75ff82,#91ff66,#b1ff46,#cfff28,#ecff0b,#ffe100,#ffc100,#ffa200,#ff8400,#ff6800,#ff4c00,#ff2c00,#f60c00,#d20000,#a80000,#800000)"></i>
<i style="left:1324.84px;width:10.64px;background:linear-gradient(#95ff62,#73ff84,#45ffb2,#1cffdb,#00c9ff,#0081ff,#004aff,#001bff,#0000ff,#0000dc,#0000c4,#0000b1,#0000a7,#0000a9,#0000b5,#0000c4,#0000d4,#0000e6,#0000fb,#0000ff,#0013ff,#0027ff,#003cff,#0052ff,#006aff,#0084ff,#00a2ff,#00c3ff,#00e3f9,#16ffe0,#2effc9,#45ffb2,#5dff9a,#77ff80,#93ff63,#b3ff44,#d1ff25,#eeff08,#ffdf00,#ffbe00,#ff9f00,#ff8100,#ff6600,#ff4900,#ff2900,#f30900,#ce0000,#a30000,#800000)"></i>
<i style="left:1334.68px;width:10.64px;background:linear-gradient(#93ff64,#72ff85,#45ffb2,#1cffda,#00caff,#0082ff,#004bff,#001bff,#0000ff,#0000dc,#0000c4,#0000b1,#0000a7,#0000a9,#0000b4,#0000c3,#0000d3,#0000e5,#0000fa,#0000ff,#0012ff,#0026ff,#003bff,#0051ff,#0069ff,#0083ff,#00a0ff,#00c0ff,#00e0fb,#14fee3,#2bffcb,#42ffb4,#5aff9d,#74ff83,#90ff67,#afff47,#ceff29,#ebff0c,#ffe300,#ffc300,#ffa300,#ff8500,#ff6900,#ff4d00,#ff2e00,#f80d00,#d30000,#aa0000,#800000)"></i>
<i style="left:1344.52px;width:10.64px;background:linear-gradient(#91ff65,#71ff86,#45ffb2,#1cffda,#00caff,#0081ff,#004aff,#001bff,#0000ff,#0000dc,#0000c4,#0000b1,#0000a7,#0000a9,#0000b4,#0000c4,#0000d3,#0000e5,#0000fa,#0000ff,#0012ff,#0026ff,#003bff,#0051ff,#0069ff,#0083ff,#00a1ff,#00c0ff,#00e0fb,#14ffe2,#2cffcb,#43ffb4,#5bff9c,#74ff83,#91ff66,#b0ff47,#cfff28,#ebff0b,#ffe200,#ffc200,#ffa200,#ff8400,#ff6900,#ff4c00,#ff2d00,#f70c00,#d20000,#a90000,#800000)"></i>
<i style="left:1354.35px;width:10.64px;background:linear-gradient(#90ff67,#70ff87,#44ffb2,#1cffdb,#00caff,#0081ff,#004aff,#001bff,#0000ff,#0000dc,#0000c4,#0000b1,#0000a7,#0000a9,#0000b5,#0000c4,#0000d4,#0000e6,#0000fb,#0000ff,#0013ff,#0027ff,#003cff,#0052ff,#006aff,#0084ff,#00a2ff,#00c2ff,#00e2f9,#16ffe1,#2effc9,#45ffb2,#5dff9a,#76ff80,#93ff64,#b3ff44,#d1ff26,#eeff09,#ffdf00,#ffbf00,#ff9f00,#ff8200,#ff6600,#ff4a00,#ff2a00,#f30900,#ce0000,#a40000,#800000)"></i>
<i style="left:1364.19px;width:10.64px;background:linear-gradient(#8eff69,#6fff88,#45ffb2,#1dffda,#00caff,#0082ff,#004bff,#001bff,#0000ff,#0000dc,#0000c4,#0000b1,#0000a7,#0000a9,#0000b4,#0000c3,#0000d3,#0000e5,#0000fa,#0000ff,#0012ff,#0026ff,#003bff,#0051ff,#0069ff,#0082ff,#00a0ff,#00c0ff,#00e0fc,#14fee3,#2bffcc,#42ffb5,#5aff9d,#73ff84,#8fff67,#afff48,#cdff29,#eaff0c,#ffe300,#ffc300,#ffa300,#ff8600,#ff6a00,#ff4e00,#ff2e00,#f90e00,#d40000,#ab0000,#800000)"></i>
<i style="left:1374.02px;width:10.64px;background:linear-gradient(#8cff6b,#6dff89,#44ffb2,#1dffda,#00caff,#0081ff,#004aff,#001bff,#0000ff,#0000dc,#0000c4,#0000b1,#0000a7,#0000a9,#0000b4,#0000c4,#0000d3,#0000e5,#0000fa,#0000ff,#0012ff,#0026ff,#003bff,#0051ff,#0069ff,#0083ff,#00a1ff,#00c0ff,#00e0fb,#14ffe2,#2cffcb,#43ffb4,#5bff9c,#74ff83,#90ff66,#b0ff47,#ceff28,#ebff0c,#ffe200,#ffc200,#ffa200,#ff8500,#ff6900,#ff4d00,#ff2d00,#f70d00,#d30000,#a90000,#800000)"></i>
<i style="left:1383.86px;width:10.64px;background:linear-gradient(#8aff6d,#6cff8b,#44ffb3,#1cffda,#00caff,#0081ff,#004aff,#001bff,#0000ff,#0000dc,#0000c4,#0000b1,#0000a7,#0000a9,#0000b5,#0000c4,#0000d3,#0000e6,#0000fa,#0000ff,#0013ff,#0027ff,#003bff,#0052ff,#0069ff,#0084ff,#00a1ff,#00c1ff,#00e1fa,#15ffe2,#2dffca,#44ffb3,#5cff9b,#75ff82,#92ff65,#b2ff45,#d0ff27,#edff0a,#ffe100,#ffc000,#ffa100,#ff8300,#ff6700,#ff4b00,#ff2b00,#f50b00,#d00000,#a70000,#800000)"></i>
<i style="left:1393.70px;width:10.64px;background:linear-gradient(#88ff6e,#6bff8c,#44ffb3,#1dffda,#00caff,#0082ff,#004bff,#001bff,#0000ff,#0000dd,#0000c4,#0000b2,#0000a7,#0000a9,#0000b4,#0000c3,#0000d2,#0000e4,#0000f9,#0000ff,#0012ff,#0025ff,#003aff,#0050ff,#0068ff,#0081ff,#009eff,#00bdff,#00ddfd,#12fce5,#29ffce,#40ffb7,#58ff9f,#71ff86,#8dff6a,#acff4b,#caff2c,#e7ff0f,#ffe700,#ffc600,#ffa700,#ff8900,#ff6d00,#ff5100,#ff3200,#fd1200,#d90000,#b10000,#850000)"></i>
<i style="left:1403.53px;width:10.64px;background:linear-gradient(#87ff70,#6aff8d,#44ffb3,#1dffda,#00caff,#0082ff,#004bff,#001bff,#0000ff,#0000dd,#0000c4,#0000b2,#0000a7,#0000a9,#0000b4,#0000c3,#0000d2,#0000e4,#0000f9,#0000ff,#0012ff,#0025ff,#003aff,#0050ff,#0067ff,#0081ff,#009eff,#00bdff,#00ddfe,#12fbe5,#29ffce,#40ffb7,#58ff9f,#71ff86,#8cff6a,#acff4b,#caff2d,#e7ff10,#ffe700,#ffc700,#ffa700,#ff8900,#ff6d00,#ff5100,#ff3300,#fe1200,#d90000,#b10000,#850000)"></i>
<i style="left:1413.37px;width:10.64px;background:linear-gradient(#85ff72,#69ff8e,#44ffb3,#1dffda,#00caff,#0082ff,#004bff,#001bff,#0000ff,#0000dd,#0000c4,#0000b2,#0000a7,#0000a9,#0000b4,#0000c3,#0000d2,#0000e4,#0000f9,#0000ff,#0012ff,#0025ff,#003aff,#0050ff,#0067ff,#0081ff,#009eff,#00bdff,#00ddfe,#11fbe5,#29ffce,#40ffb7,#57ff9f,#70ff86,#8cff6b,#abff4b,#caff2d,#e7ff10,#ffe700,#ffc700,#ffa700,#ff8900,#ff6e00,#ff5200,#ff3300,#fe1200,#d90000,#b20000,#860000)"></i>
<i style="left:1423.20px;width:10.64px;background:linear-gradient(#83ff74,#68ff8f,#44ffb3,#1effd9,#00cbff,#0083ff,#004bff,#001bff,#0000ff,#0000dd,#0000c5,#0000b2,#0000a7,#0000a8,#0000b2,#0000c1,#0000d1,#0000e3,#0000f8,#0000ff,#0010ff,#0024ff,#0039ff,#004eff,#0065ff,#007eff,#009aff,#00b9ff,#00d8ff,#0ef6e9,#25ffd2,#3cffbb,#53ffa4,#6cff8b,#86ff70,#a5ff52,#c4ff33,#e1ff16,#fdee00,#ffce00,#ffae00,#ff9000,#ff7400,#ff5800,#ff3b00,#ff1a00,#e20000,#bd0000,#910000)"></i>
<i style="left:1433.04px;width:10.64px;background:linear-gradient(#81ff76,#67ff90,#44ffb3,#1effd9,#00cbff,#0083ff,#004bff,#001bff,#0000ff,#0000dd,#0000c5,#0000b2,#0000a7,#0000a8,#0000b2,#0000c1,#0000d1,#0000e3,#0000f8,#0000ff,#0010ff,#0024ff,#0039ff,#004eff,#0065ff,#007eff,#009aff,#00b9ff,#00d8ff,#0ef6e9,#25ffd2,#3cffbb,#53ffa4,#6cff8b,#86ff70,#a5ff52,#c4ff33,#e1ff16,#fdee00,#ffce00,#ffae00,#ff9000,#ff7400,#ff5800,#ff3b00,#ff1a00,#e20000,#bd0000,#910000)"></i>
<i style="left:1442.88px;width:10.64px;background:linear-gradient(#7fff77,#66ff91,#44ffb3,#1effd9,#00cbff,#0083ff,#004bff,#001cff,#0000ff,#0000dd,#0000c5,#0000b3,#0000a7,#0000a8,#0000b2,#0000c1,#0000d1,#0000e3,#0000f8,#0000ff,#0010ff,#0024ff,#0038ff,#004eff,#0065ff,#007eff,#009aff,#00b8ff,#00d8ff,#0df6ea,#24ffd2,#3bffbb,#53ffa4,#6bff8c,#86ff71,#a4ff52,#c3ff34,#e0ff17,#fcef00,#ffcf00,#ffaf00,#ff9100,#ff7400,#ff5900,#ff3b00,#ff1b00,#e30000,#be0000,#920000)"></i>
<i style="left:1452.71px;width:10.64px;background:linear-gradient(#7eff79,#65ff92,#44ffb3,#1effd9,#00ccff,#0083ff,#004cff,#001cff,#0000ff,#0000de,#0000c5,#0000b3,#0000a8,#0000a8,#0000b2,#0000c0,#0000d0,#0000e2,#0000f7,#0000ff,#000fff,#0023ff,#0037ff,#004cff,#0063ff,#007bff,#0097ff,#00b5ff,#00d4ff,#0af2ed,#21ffd6,#38ffbf,#4fffa8,#67ff90,#81ff76,#9fff58,#beff39,#dbff1c,#f7f500,#ffd500,#ffb500,#ff9600,#ff7a00,#ff5e00,#ff4200,#ff2200,#eb0300,#c70000,#9c0000)"></i>
<i style="left:1462.55px;width:10.64px;background:linear-gradient(#7cff7b,#63ff93,#43ffb3,#1effd9,#00ccff,#0083ff,#004cff,#001cff,#0000ff,#0000dd,#0000c5,#0000b3,#0000a8,#0000a8,#0000b2,#0000c1,#0000d0,#0000e2,#0000f7,#0000ff,#0010ff,#0023ff,#0037ff,#004dff,#0064ff,#007cff,#0098ff,#00b6ff,#00d5ff,#0bf3ec,#22ffd5,#39ffbe,#50ffa7,#68ff8f,#82ff75,#a0ff56,#bfff37,#dcff1a,#f8f400,#ffd300,#ffb400,#ff9500,#ff7800,#ff5d00,#ff4000,#ff2000,#e90100,#c50000,#9a0000)"></i>
<i style="left:1472.38px;width:10.64px;background:linear-gradient(#7aff7d,#62ff95,#43ffb4,#1effd9,#00ccff,#0083ff,#004cff,#001cff,#0000ff,#0000de,#0000c5,#0000b3,#0000a8,#0000a8,#0000b2,#0000c1,#0000d0,#0000e2,#0000f7,#0000ff,#0010ff,#0023ff,#0037ff,#004dff,#0063ff,#007cff,#0098ff,#00b6ff,#00d4ff,#0bf3ec,#22ffd5,#39ffbe,#50ffa7,#68ff8f,#82ff75,#a0ff57,#bfff38,#dcff1b,#f8f400,#ffd400,#ffb400,#ff9500,#ff7900,#ff5d00,#ff4000,#ff2000,#ea0100,#c50000,#9a0000)"></i>
<i style="left:1482.22px;width:10.64px;background:linear-gradient(#78ff7f,#61ff96,#42ffb5,#1dffda,#00caff,#0081ff,#004aff,#001bff,#0000ff,#0000dc,#0000c4,#0000b1,#0000a7,#0000a9,#0000b5,#0000c4,#0000d3,#0000e6,#0000fa,#0000ff,#0013ff,#0027ff,#003cff,#0052ff,#006aff,#0084ff,#00a2ff,#00c1ff,#00e2fa,#15ffe1,#2dffca,#44ffb3,#5cff9b,#75ff81,#92ff65,#b2ff45,#d0ff27,#edff0a,#ffe000,#ffc000,#ffa100,#ff8300,#ff6700,#ff4b00,#ff2b00,#f50b00,#d00000,#a60000,#800000)"></i>
<i style="left:1492.06px;width:10.64px;background:linear-gradient(#76ff80,#5fff97,#42ffb5,#1dffda,#00c9ff,#0081ff,#004aff,#001aff,#0000ff,#0000dc,#0000c3,#0000b1,#0000a7,#0000aa,#0000b5,#0000c4,#0000d4,#0000e6,#0000fb,#0000ff,#0013ff,#0027ff,#003cff,#0053ff,#006bff,#0085ff,#00a3ff,#00c4ff,#00e4f8,#17ffe0,#2fffc8,#46ffb1,#5eff99,#78ff7f,#95ff62,#b5ff42,#d3ff24,#f0fe07,#ffdd00,#ffbd00,#ff9d00,#ff8000,#ff6400,#ff4800,#ff2700,#f10700,#cc0000,#a10000,#800000)"></i>
<i style="left:1501.89px;width:10.64px;background:linear-gradient(#75ff82,#5fff98,#43ffb4,#1fffd8,#00ccff,#0083ff,#004cff,#001cff,#0000ff,#0000de,#0000c6,#0000b3,#0000a8,#0000a8,#0000b1,#0000c0,#0000cf,#0000e2,#0000f7,#0000ff,#000fff,#0023ff,#0037ff,#004cff,#0063ff,#007bff,#0096ff,#00b4ff,#00d3ff,#09f1ee,#20ffd7,#37ffc0,#4effa9,#66ff91,#80ff77,#9dff59,#bdff3a,#daff1d,#f6f701,#ffd700,#ffb700,#ff9800,#ff7b00,#ff6000,#ff4400,#ff2400,#ed0400,#c90000,#9f0000)"></i>
<i style="left:1511.73px;width:10.64px;background:linear-gradient(#75ff82,#5fff98,#43ffb4,#1fffd8,#00cdff,#0084ff,#004cff,#001cff,#0000ff,#0000de,#0000c6,#0000b4,#0000a8,#0000a7,#0000b1,#0000bf,#0000cf,#0000e1,#0000f6,#0000ff,#000eff,#0022ff,#0036ff,#004bff,#0061ff,#0079ff,#0094ff,#00b1ff,#00cfff,#06edf0,#1dffd9,#34ffc3,#4bffac,#63ff94,#7cff7b,#99ff5e,#b8ff3e,#d5ff21,#f2fb05,#ffdb00,#ffbc00,#ff9d00,#ff8000,#ff6400,#ff4800,#ff2900,#f40a00,#d00000,#a70000)"></i>
<i style="left:1521.56px;width:10.64px;background:linear-gradient(#89ff6e,#5dff9a,#32ffc5,#1effd8,#06edf1,#00a9ff,#006fff,#0046ff,#0023ff,#0004ff,#0000f4,#0000d7,#0000c0,#0000ac,#0000a7,#0000b0,#0000bf,#0000cf,#0000e4,#0000fa,#0000ff,#000eff,#001cff,#002aff,#0039ff,#0049ff,#005cff,#0072ff,#0092ff,#00bcff,#00e6f6,#1dffda,#36ffc1,#4fffa8,#68ff8f,#82ff74,#a0ff57,#beff38,#dbff1c,#f6f601,#ffd600,#ffb700,#ff9700,#ff7800,#ff5800,#ff3700,#ff1400,#db0000,#b60000)"></i>
<i style="left:1531.40px;width:20.47px;background:linear-gradient(#abff4b,#86ff71,#51ffa5,#28ffce,#05ecf2,#00a7ff,#006fff,#0046ff,#0023ff,#0004ff,#0000f4,#0000d7,#0000c0,#0000ac,#0000a7,#0000b0,#0000bf,#0000cf,#0000e4,#0000fa,#0000ff,#000eff,#001cff,#002aff,#0039ff,#0049ff,#005cff,#0072ff,#0092ff,#00bcff,#00e6f6,#1dffda,#36ffc1,#4fffa8,#68ff8f,#82ff74,#a0ff57,#beff38,#dbff1c,#f6f601,#ffd600,#ffb700,#ff9700,#ff7800,#ff5800,#ff3700,#ff1400,#db0000,#b60000)"></i>
<i style="left:1551.07px;width:10.64px;background:linear-gradient(#abff4b,#86ff71,#51ffa5,#28ffce,#04ebf3,#00a5ff,#006dff,#0044ff,#0021ff,#0002ff,#0000f2,#0000d6,#0000c0,#0000ac,#0000a7,#0000af,#0000be,#0000cf,#0000e2,#0000f9,#0000ff,#000dff,#001cff,#002aff,#0038ff,#0048ff,#005aff,#0070ff,#008fff,#00b9ff,#00e4f8,#1bffdc,#35ffc2,#4dffa9,#66ff91,#81ff76,#9fff58,#bdff3a,#d9ff1e,#f5f802,#ffd800,#ffb900,#ff9900,#ff7900,#ff5900,#ff3800,#ff1500,#dc0000,#b70000)"></i>
<i style="left:1560.91px;width:10.64px;background:linear-gradient(#abff4b,#86ff71,#51ffa5,#28ffce,#05ecf2,#00a7ff,#006fff,#0046ff,#0023ff,#0004ff,#0000f4,#0000d7,#0000c0,#0000ac,#0000a7,#0000b0,#0000bf,#0000cf,#0000e4,#0000fa,#0000ff,#000eff,#001cff,#002aff,#0039ff,#0049ff,#005cff,#0072ff,#0092ff,#00bcff,#00e6f6,#1dffda,#36ffc1,#4fffa8,#68ff8f,#82ff74,#a0ff57,#beff38,#dbff1c,#f6f601,#ffd600,#ffb700,#ff9700,#ff7800,#ff5800,#ff3700,#ff1400,#db0000,#b60000)"></i>
<i style="left:1570.74px;width:10.64px;background:linear-gradient(#abff4b,#85ff72,#51ffa6,#29ffcd,#0af2ed,#00b4ff,#007aff,#0053ff,#0032ff,#0014ff,#0000ff,#0000e1,#0000c4,#0000aa,#0000a8,#0000b4,#0000c5,#0000d7,#0000ed,#0000ff,#0006ff,#0015ff,#0023ff,#0031ff,#0040ff,#0051ff,#0065ff,#007fff,#00a5ff,#00d0ff,#0ef6e9,#28ffcf,#41ffb6,#59ff9d,#73ff84,#8fff68,#aeff49,#cbff2b,#e7ff10,#ffe800,#ffc800,#ffa900,#ff8a00,#ff6a00,#ff4b00,#ff2b00,#f70c00,#d30000,#ad0000)"></i>
<i style="left:1580.58px;width:10.64px;background:linear-gradient(#abff4b,#85ff72,#51ffa6,#29ffce,#09f1ee,#00b1ff,#0078ff,#0050ff,#002eff,#0010ff,#0000ff,#0000de,#0000c3,#0000ab,#0000a8,#0000b3,#0000c4,#0000d5,#0000eb,#0000ff,#0004ff,#0013ff,#0021ff,#002fff,#003eff,#004fff,#0063ff,#007bff,#00a0ff,#00cbff,#0af3ec,#25ffd1,#3effb9,#57ffa0,#70ff87,#8cff6b,#aaff4c,#c8ff2f,#e4ff13,#ffeb00,#ffcc00,#ffad00,#ff8d00,#ff6e00,#ff4e00,#ff2e00,#f90e00,#d50000,#af0000)"></i>
<i style="left:1590.42px;width:10.64px;background:linear-gradient(#abff4b,#86ff71,#52ffa5,#28ffcf,#00e6f7,#009cff,#0066ff,#003bff,#0017ff,#0000ff,#0000ea,#0000d2,#0000be,#0000ac,#0000a6,#0000ad,#0000bb,#0000cb,#0000dd,#0000f3,#0000ff,#0009ff,#0018ff,#0026ff,#0034ff,#0043ff,#0055ff,#0069ff,#0085ff,#00adff,#00d8ff,#14fee3,#2effc9,#47ffb0,#5fff97,#79ff7d,#96ff61,#b4ff42,#d1ff26,#edff0a,#ffe100,#ffc200,#ffa200,#ff8200,#ff6200,#ff4000,#ff1b00,#e20000,#bd0000)"></i>
<i style="left:1600.25px;width:10.64px;background:linear-gradient(#abff4b,#86ff70,#53ffa4,#27ffd0,#00dffc,#0092ff,#005bff,#002fff,#000aff,#0000fc,#0000e2,#0000ce,#0000bc,#0000ad,#0000a6,#0000ab,#0000b7,#0000c6,#0000d7,#0000ec,#0000ff,#0004ff,#0013ff,#0021ff,#002fff,#003dff,#004eff,#0062ff,#0079ff,#009eff,#00c9ff,#0af2ed,#25ffd2,#3fffb8,#57ff9f,#71ff86,#8dff6a,#aaff4c,#c8ff2f,#e3ff13,#ffec00,#ffcc00,#ffac00,#ff8c00,#ff6c00,#ff4b00,#ff2400,#e80000,#c40000)"></i>
<i style="left:1610.09px;width:10.64px;background:linear-gradient(#abff4b,#87ff70,#53ffa4,#26ffd1,#00dcfe,#008eff,#0057ff,#002aff,#0006ff,#0000f8,#0000e0,#0000cd,#0000bc,#0000ad,#0000a6,#0000aa,#0000b6,#0000c5,#0000d5,#0000ea,#0000ff,#0002ff,#0011ff,#001fff,#002dff,#003cff,#004cff,#005fff,#0076ff,#0099ff,#00c4ff,#07eef0,#22ffd4,#3cffbb,#55ffa2,#6eff89,#89ff6d,#a7ff50,#c4ff32,#e0ff16,#fcef00,#ffd000,#ffb000,#ff9000,#ff7000,#ff4e00,#ff2700,#ea0200,#c60000)"></i>
<i style="left:1619.92px;width:10.64px;background:linear-gradient(#abff4b,#87ff70,#53ffa4,#26ffd0,#00ddfd,#0090ff,#0059ff,#002dff,#0008ff,#0000fa,#0000e1,#0000ce,#0000bc,#0000ad,#0000a6,#0000ab,#0000b6,#0000c6,#0000d6,#0000eb,#0000ff,#0003ff,#0012ff,#0020ff,#002eff,#003dff,#004dff,#0060ff,#0078ff,#009bff,#00c7ff,#08f0ee,#24ffd3,#3dffba,#56ffa1,#6fff87,#8bff6c,#a9ff4e,#c6ff31,#e2ff15,#feee00,#ffce00,#ffae00,#ff8e00,#ff6e00,#ff4d00,#ff2500,#e90100,#c50000)"></i>
<i style="left:1629.76px;width:10.64px;background:linear-gradient(#abff4b,#87ff70,#53ffa4,#26ffd1,#00dcfe,#008eff,#0057ff,#002aff,#0006ff,#0000f8,#0000e0,#0000cd,#0000bc,#0000ad,#0000a6,#0000aa,#0000b6,#0000c5,#0000d5,#0000ea,#0000ff,#0002ff,#0011ff,#001fff,#002dff,#003cff,#004cff,#005fff,#0076ff,#0099ff,#00c4ff,#07eef0,#22ffd4,#3cffbb,#55ffa2,#6eff89,#89ff6d,#a7ff50,#c4ff32,#e0ff16,#fcef00,#ffd000,#ffb000,#ff9000,#ff7000,#ff4e00,#ff2700,#ea0200,#c60000)"></i>
<i style="left:1639.60px;width:10.64px;background:linear-gradient(#abff4b,#86ff70,#53ffa4,#27ffd0,#00dffc,#0092ff,#005bff,#002fff,#000aff,#0000fc,#0000e2,#0000ce,#0000bc,#0000ad,#0000a6,#0000ab,#0000b7,#0000c6,#0000d7,#0000ec,#0000ff,#0004ff,#0013ff,#0021ff,#002fff,#003dff,#004eff,#0062ff,#0079ff,#009eff,#00c9ff,#0af2ed,#25ffd2,#3fffb8,#57ff9f,#71ff86,#8dff6a,#aaff4c,#c8ff2f,#e3ff13,#ffec00,#ffcc00,#ffac00,#ff8c00,#ff6c00,#ff4b00,#ff2400,#e80000,#c40000)"></i>
<i style="left:1649.43px;width:10.64px;background:linear-gradient(#abff4b,#86ff71,#52ffa4,#27ffd0,#00e2f9,#0097ff,#0061ff,#0035ff,#0011ff,#0000ff,#0000e6,#0000d0,#0000bd,#0000ad,#0000a6,#0000ac,#0000b9,#0000c9,#0000da,#0000ef,#0000ff,#0007ff,#0015ff,#0023ff,#0031ff,#0040ff,#0051ff,#0065ff,#007fff,#00a5ff,#00d1ff,#0ff8e8,#2affcd,#43ffb4,#5bff9b,#75ff82,#91ff65,#afff47,#ccff2a,#e8ff0f,#ffe600,#ffc700,#ffa700,#ff8700,#ff6700,#ff4600,#ff1f00,#e50000,#c00000)"></i>
<i style="left:1659.27px;width:10.64px;background:linear-gradient(#abff4b,#86ff71,#52ffa5,#28ffcf,#00e6f7,#009cff,#0066ff,#003bff,#0017ff,#0000ff,#0000ea,#0000d2,#0000be,#0000ac,#0000a6,#0000ad,#0000bb,#0000cb,#0000dd,#0000f3,#0000ff,#0009ff,#0018ff,#0026ff,#0034ff,#0043ff,#0055ff,#0069ff,#0085ff,#00adff,#00d8ff,#14fee3,#2effc9,#47ffb0,#5fff97,#79ff7d,#96ff61,#b4ff42,#d1ff26,#edff0a,#ffe100,#ffc200,#ffa200,#ff8200,#ff6200,#ff4000,#ff1b00,#e20000,#bd0000)"></i>
<i style="left:1669.10px;width:10.64px;background:linear-gradient(#82ff75,#55ffa2,#2effc8,#1cffda,#01e7f5,#009cff,#0064ff,#0039ff,#0015ff,#0000ff,#0000e9,#0000d1,#0000be,#0000ac,#0000a6,#0000ad,#0000ba,#0000ca,#0000dc,#0000f2,#0000ff,#0008ff,#0017ff,#0025ff,#0033ff,#0042ff,#0054ff,#0068ff,#0083ff,#00aaff,#00d6ff,#12fce5,#2cffca,#45ffb1,#5eff99,#78ff7f,#95ff62,#b3ff44,#d0ff27,#ebff0b,#ffe300,#ffc300,#ffa400,#ff8400,#ff6400,#ff4200,#ff1c00,#e30000,#be0000)"></i>
<i style="left:1678.94px;width:10.64px;background:linear-gradient(#82ff75,#55ffa2,#2fffc8,#1dffda,#04eaf3,#00a2ff,#0069ff,#003fff,#001bff,#0000ff,#0000ed,#0000d3,#0000bf,#0000ac,#0000a6,#0000ae,#0000bc,#0000cc,#0000df,#0000f5,#0000ff,#000bff,#0019ff,#0027ff,#0035ff,#0045ff,#0057ff,#006cff,#0089ff,#00b2ff,#00ddfe,#17ffe0,#31ffc6,#49ffad,#62ff95,#7cff7a,#9aff5d,#b8ff3f,#d4ff22,#f0fd07,#ffde00,#ffbe00,#ff9e00,#ff7f00,#ff5f00,#ff3d00,#ff1900,#e00000,#ba0000)"></i>
<i style="left:1688.78px;width:10.64px;background:linear-gradient(#82ff75,#55ffa2,#2fffc8,#1dffda,#02e8f5,#009eff,#0066ff,#003bff,#0017ff,#0000ff,#0000ea,#0000d2,#0000be,#0000ac,#0000a6,#0000ad,#0000bb,#0000cb,#0000dd,#0000f3,#0000ff,#0009ff,#0018ff,#0026ff,#0034ff,#0043ff,#0055ff,#0069ff,#0085ff,#00adff,#00d8ff,#14fee3,#2effc9,#47ffb0,#5fff97,#79ff7d,#96ff61,#b4ff42,#d1ff26,#edff0a,#ffe100,#ffc200,#ffa200,#ff8200,#ff6200,#ff4000,#ff1b00,#e20000,#bd0000)"></i>
<i style="left:1698.61px;width:10.64px;background:linear-gradient(#82ff75,#55ffa2,#2effc8,#1cffdb,#00e5f7,#0098ff,#0061ff,#0035ff,#0011ff,#0000ff,#0000e6,#0000d0,#0000bd,#0000ad,#0000a6,#0000ac,#0000b9,#0000c9,#0000da,#0000ef,#0000ff,#0007ff,#0015ff,#0023ff,#0031ff,#0040ff,#0051ff,#0065ff,#007fff,#00a5ff,#00d1ff,#0ff8e8,#2affcd,#43ffb4,#5bff9b,#75ff82,#91ff65,#afff47,#ccff2a,#e8ff0f,#ffe600,#ffc700,#ffa700,#ff8700,#ff6700,#ff4600,#ff1f00,#e50000,#c00000)"></i>
<i style="left:1708.45px;width:10.64px;background:linear-gradient(#82ff75,#55ffa2,#2effc8,#1cffdb,#00e4f8,#0096ff,#005fff,#0033ff,#000eff,#0000ff,#0000e5,#0000cf,#0000bd,#0000ad,#0000a6,#0000ac,#0000b8,#0000c8,#0000d9,#0000ee,#0000ff,#0006ff,#0015ff,#0022ff,#0030ff,#003fff,#0050ff,#0064ff,#007dff,#00a3ff,#00ceff,#0df6ea,#28ffcf,#41ffb6,#5aff9d,#74ff83,#90ff67,#aeff49,#cbff2c,#e7ff10,#ffe800,#ffc900,#ffa900,#ff8900,#ff6900,#ff4700,#ff2100,#e60000,#c10000)"></i>
<i style="left:1718.28px;width:10.64px;background:linear-gradient(#82ff75,#55ffa2,#2effc8,#1cffdb,#00e2fa,#0092ff,#005bff,#002fff,#000aff,#0000fc,#0000e2,#0000ce,#0000bc,#0000ad,#0000a6,#0000ab,#0000b7,#0000c6,#0000d7,#0000ec,#0000ff,#0004ff,#0013ff,#0021ff,#002fff,#003dff,#004eff,#0062ff,#0079ff,#009eff,#00c9ff,#0af2ed,#25ffd2,#3fffb8,#57ff9f,#71ff86,#8dff6a,#aaff4c,#c8ff2f,#e3ff13,#ffec00,#ffcc00,#ffac00,#ff8c00,#ff6c00,#ff4b00,#ff2400,#e80000,#c40000)"></i>
<i style="left:1728.12px;width:10.64px;background:linear-gradient(#82ff75,#55ffa1,#2effc9,#1bffdc,#00ddfd,#008aff,#0054ff,#0026ff,#0002ff,#0000f5,#0000de,#0000cc,#0000bc,#0000ad,#0000a6,#0000aa,#0000b5,#0000c3,#0000d3,#0000e7,#0000fd,#0001ff,#0010ff,#001eff,#002bff,#003aff,#004aff,#005dff,#0073ff,#0094ff,#00bfff,#03eaf3,#1fffd7,#39ffbe,#52ffa5,#6bff8c,#86ff71,#a4ff53,#c1ff36,#ddff1a,#f9f300,#ffd300,#ffb300,#ff9300,#ff7300,#ff5200,#ff2a00,#ed0400,#c80000)"></i>
<i style="left:1737.96px;width:10.64px;background:linear-gradient(#82ff75,#55ffa1,#2effc9,#1bffdc,#00daff,#0087ff,#004fff,#0021ff,#0000ff,#0000f2,#0000dc,#0000cb,#0000bb,#0000ad,#0000a6,#0000a9,#0000b4,#0000c2,#0000d1,#0000e5,#0000fb,#0000ff,#000eff,#001cff,#002aff,#0038ff,#0048ff,#005aff,#0070ff,#0090ff,#00baff,#00e5f7,#1cffda,#36ffc0,#4fffa8,#68ff8e,#83ff74,#a0ff56,#beff39,#daff1d,#f6f701,#ffd700,#ffb700,#ff9700,#ff7700,#ff5600,#ff2e00,#ef0600,#ca0000)"></i>
<i style="left:1747.79px;width:10.64px;background:linear-gradient(#82ff75,#55ffa1,#2effc9,#1affdc,#00d9ff,#0085ff,#004dff,#001fff,#0000ff,#0000f0,#0000db,#0000cb,#0000bb,#0000ad,#0000a6,#0000a9,#0000b3,#0000c1,#0000d0,#0000e4,#0000fa,#0000ff,#000dff,#001bff,#0029ff,#0037ff,#0047ff,#0059ff,#006fff,#008dff,#00b8ff,#00e3f9,#1bffdc,#35ffc2,#4effa9,#67ff90,#82ff75,#9fff58,#bcff3b,#d8ff1e,#f4f803,#ffd900,#ffb900,#ff9800,#ff7800,#ff5800,#ff3000,#f00700,#cb0000)"></i>
<i style="left:1757.63px;width:10.64px;background:linear-gradient(#82ff75,#55ffa1,#2effc9,#1bffdc,#00daff,#0087ff,#004fff,#0021ff,#0000ff,#0000f2,#0000dc,#0000cb,#0000bb,#0000ad,#0000a6,#0000a9,#0000b4,#0000c2,#0000d1,#0000e5,#0000fb,#0000ff,#000eff,#001cff,#002aff,#0038ff,#0048ff,#005aff,#0070ff,#0090ff,#00baff,#00e5f7,#1cffda,#36ffc0,#4fffa8,#68ff8e,#83ff74,#a0ff56,#beff39,#daff1d,#f6f701,#ffd700,#ffb700,#ff9700,#ff7700,#ff5600,#ff2e00,#ef0600,#ca0000)"></i>
<i style="left:1767.46px;width:10.64px;background:linear-gradient(#60ff97,#35ffc2,#24ffd3,#17ffdf,#00dcfe,#0087ff,#004fff,#0021ff,#0000ff,#0000f2,#0000dc,#0000cb,#0000bb,#0000ad,#0000a6,#0000a9,#0000b4,#0000c2,#0000d1,#0000e5,#0000fb,#0000ff,#000eff,#001cff,#002aff,#0038ff,#0048ff,#005aff,#0070ff,#0090ff,#00baff,#00e5f7,#1cffda,#36ffc0,#4fffa8,#68ff8e,#83ff74,#a0ff56,#beff39,#daff1d,#f6f701,#ffd700,#ffb700,#ff9700,#ff7700,#ff5600,#ff2e00,#ef0600,#ca0000)"></i>
<i style="left:1777.30px;width:10.64px;background:linear-gradient(#60ff97,#35ffc2,#24ffd3,#17ffe0,#00dbff,#0085ff,#004dff,#001fff,#0000ff,#0000f0,#0000db,#0000cb,#0000bb,#0000ad,#0000a6,#0000a9,#0000b3,#0000c1,#0000d0,#0000e4,#0000fa,#0000ff,#000dff,#001bff,#0029ff,#0037ff,#0047ff,#0059ff,#006fff,#008dff,#00b8ff,#00e3f9,#1bffdc,#35ffc2,#4effa9,#67ff90,#82ff75,#9fff58,#bcff3b,#d8ff1e,#f4f803,#ffd900,#ffb900,#ff9800,#ff7800,#ff5800,#ff3000,#f00700,#cb0000)"></i>
<i style="left:1787.14px;width:40.14px;background:linear-gradient(#60ff97,#35ffc2,#24ffd3,#17ffe0,#00d9ff,#0083ff,#004bff,#001dff,#0000ff,#0000ef,#0000db,#0000ca,#0000bb,#0000ae,#0000a6,#0000a9,#0000b3,#0000c1,#0000d0,#0000e3,#0000f9,#0000ff,#000dff,#001bff,#0028ff,#0036ff,#0046ff,#0058ff,#006dff,#008bff,#00b5ff,#00e1fb,#19ffdd,#34ffc3,#4cffaa,#66ff91,#80ff77,#9dff5a,#bbff3c,#d7ff20,#f3fa04,#ffda00,#ffba00,#ff9a00,#ff7a00,#ff5900,#ff3200,#f10800,#cd0000)"></i>
<i style="left:1826.48px;width:39.82px;background:linear-gradient(#82ff75,#5dff99,#34ffc3,#1affdd,#00ceff,#007dff,#004eff,#0029ff,#0009ff,#0000fc,#0000e0,#0000cc,#0000bc,#0000af,#0000a7,#0000a8,#0000b0,#0000be,#0000cc,#0000dd,#0000f2,#0000ff,#0007ff,#0014ff,#0021ff,#002eff,#003cff,#004bff,#005dff,#0073ff,#0092ff,#00bcff,#01e7f6,#1fffd8,#3affbc,#56ffa1,#72ff85,#90ff67,#b0ff47,#ceff29,#ecff0b,#ffe200,#ffc400,#ffa700,#ff8b00,#ff7000,#ff5700,#ff3e00,#ff2900)"></i>
</div>
<svg width="2228" height="1203" viewBox="0 0 2228 1203">
<defs>
<linearGradient id="cb" x1="0" y1="1" x2="0" y2="0"><stop offset="0.00" stop-color="#000080"/><stop offset="0.02" stop-color="#000097"/><stop offset="0.04" stop-color="#0000ae"/><stop offset="0.06" stop-color="#0000c5"/><stop offset="0.08" stop-color="#0000dc"/><stop offset="0.10" stop-color="#0000f3"/><stop offset="0.12" stop-color="#0000ff"/><stop offset="0.14" stop-color="#000fff"/><stop offset="0.16" stop-color="#0024ff"/><stop offset="0.18" stop-color="#0038ff"/><stop offset="0.20" stop-color="#004dff"/><stop offset="0.22" stop-color="#0061ff"/><stop offset="0.24" stop-color="#0075ff"/><stop offset="0.26" stop-color="#008aff"/><stop offset="0.28" stop-color="#009eff"/><stop offset="0.30" stop-color="#00b2ff"/><stop offset="0.32" stop-color="#00c7ff"/><stop offset="0.34" stop-color="#00dbff"/><stop offset="0.36" stop-color="#08f0ef"/><stop offset="0.38" stop-color="#19ffde"/><stop offset="0.40" stop-color="#29ffce"/><stop offset="0.42" stop-color="#3affbd"/><stop offset="0.44" stop-color="#4affad"/><stop offset="0.46" stop-color="#5aff9c"/><stop offset="0.48" stop-color="#6bff8c"/><stop offset="0.50" stop-color="#7bff7b"/><stop offset="0.52" stop-color="#8cff6b"/><stop offset="0.54" stop-color="#9cff5a"/><stop offset="0.56" stop-color="#adff4a"/><stop offset="0.58" stop-color="#bdff3a"/><stop offset="0.60" stop-color="#ceff29"/><stop offset="0.62" stop-color="#deff19"/><stop offset="0.64" stop-color="#efff08"/><stop offset="0.66" stop-color="#ffec00"/><stop offset="0.68" stop-color="#ffd900"/><stop offset="0.70" stop-color="#ffc600"/><stop offset="0.72" stop-color="#ffb300"/><stop offset="0.74" stop-color="#ffa100"/><stop offset="0.76" stop-color="#ff8e00"/><stop offset="0.78" stop-color="#ff7b00"/><stop offset="0.80" stop-color="#ff6800"/><stop offset="0.82" stop-color="#ff5500"/><stop offset="0.84" stop-color="#ff4200"/><stop offset="0.86" stop-color="#ff2f00"/><stop offset="0.88" stop-color="#ff1c00"/><stop offset="0.90" stop-color="#f30900"/><stop offset="0.92" stop-color="#dc0000"/><stop offset="0.94" stop-color="#c50000"/><stop offset="0.96" stop-color="#ae0000"/><stop offset="0.98" stop-color="#970000"/><stop offset="1.00" stop-color="#800000"/></linearGradient>
</defs>
<g>
<path d="M193.8,296.8 L237.0,296.8 L256.0,300.2 L280.5,295.0 L300.0,294.9 L320.0,294.5 L341.0,297.9 L364.0,298.3 L382.0,296.4 L397.0,293.0 L426.0,294.5 L444.5,299.2 L490.0,298.7 L508.6,297.3 L530.0,299.0 L552.0,298.0 L571.0,301.0 L600.0,299.2 L615.0,299.2 L634.0,296.8 L653.0,300.2 L678.0,300.2 L697.0,300.2 L715.0,302.0 L739.5,299.8 L758.0,301.1 L788.5,302.4 L803.6,302.4 L822.4,303.9 L841.3,301.7 L864.0,300.2 L884.6,302.0 L911.0,304.0 L929.0,304.9 L948.7,303.0 L970.0,303.5 L992.0,305.8 L1012.0,306.3 L1047.7,305.2 L1053.4,303.7 L1073.0,302.9 L1100.5,304.8 L1115.6,306.1 L1135.4,304.2 L1157.0,301.4 L1180.6,301.4 L1198.5,306.1 L1242.8,305.5 L1260.7,302.3 L1283.3,305.2 L1304.0,308.9 L1323.0,311.8 L1353.0,308.9 L1367.0,309.3 L1385.0,309.9 L1405.9,311.8 L1424.7,314.6 L1448.9,314.9 L1472.4,312.0 L1482.2,307.0 L1492.1,308.7 L1501.9,313.0 L1511.7,321.0 L1521.6,333.5 L1531.4,337.1 L1541.2,336.6 L1551.1,336.5 L1560.9,331.5 L1570.7,324.7 L1580.6,325.5 L1590.4,327.5 L1600.3,333.5 L1610.1,341.0 L1619.9,344.9 L1629.8,337.6 L1639.6,343.5 L1649.4,349.0 L1659.3,340.0 L1669.1,334.0 L1678.9,341.0 L1688.8,329.0 L1698.6,326.0 L1708.4,331.0 L1718.3,333.0 L1728.1,335.0 L1738.0,337.5 L1747.8,341.0 L1757.6,345.5 L1767.5,347.5 L1777.3,337.0 L1787.1,333.5 L1797.0,331.0 L1806.8,329.5 L1816.6,329.0 L1826.5,334.0 L1836.3,346.5 L1846.2,348.0 L1856.0,350.0 L1865.5,352.3" fill="none" stroke="#000" stroke-width="12.4" stroke-dasharray="44 19" stroke-linejoin="round"/>
<g stroke="#000" fill="none"><path d="M203.5,57.0v13M203.5,1035.0v-13" stroke-width="4.2"/><path d="M252.7,57.0v13M252.7,1035.0v-13" stroke-width="4.2"/><path d="M301.9,57.0v27M301.9,1035.0v-27" stroke-width="5.6"/><path d="M351.1,57.0v13M351.1,1035.0v-13" stroke-width="4.2"/><path d="M400.3,57.0v13M400.3,1035.0v-13" stroke-width="4.2"/><path d="M449.4,57.0v13M449.4,1035.0v-13" stroke-width="4.2"/><path d="M498.6,57.0v13M498.6,1035.0v-13" stroke-width="4.2"/><path d="M547.8,57.0v27M547.8,1035.0v-27" stroke-width="5.6"/><path d="M597.0,57.0v13M597.0,1035.0v-13" stroke-width="4.2"/><path d="M646.2,57.0v13M646.2,1035.0v-13" stroke-width="4.2"/><path d="M695.3,57.0v13M695.3,1035.0v-13" stroke-width="4.2"/><path d="M744.5,57.0v13M744.5,1035.0v-13" stroke-width="4.2"/><path d="M793.7,57.0v27M793.7,1035.0v-27" stroke-width="5.6"/><path d="M842.9,57.0v13M842.9,1035.0v-13" stroke-width="4.2"/><path d="M892.1,57.0v13M892.1,1035.0v-13" stroke-width="4.2"/><path d="M941.2,57.0v13M941.2,1035.0v-13" stroke-width="4.2"/><path d="M990.4,57.0v13M990.4,1035.0v-13" stroke-width="4.2"/><path d="M1039.6,57.0v27M1039.6,1035.0v-27" stroke-width="5.6"/><path d="M1088.8,57.0v13M1088.8,1035.0v-13" stroke-width="4.2"/><path d="M1138.0,57.0v13M1138.0,1035.0v-13" stroke-width="4.2"/><path d="M1187.1,57.0v13M1187.1,1035.0v-13" stroke-width="4.2"/><path d="M1236.3,57.0v13M1236.3,1035.0v-13" stroke-width="4.2"/><path d="M1285.5,57.0v27M1285.5,1035.0v-27" stroke-width="5.6"/><path d="M1334.7,57.0v13M1334.7,1035.0v-13" stroke-width="4.2"/><path d="M1383.9,57.0v13M1383.9,1035.0v-13" stroke-width="4.2"/><path d="M1433.0,57.0v13M1433.0,1035.0v-13" stroke-width="4.2"/><path d="M1482.2,57.0v13M1482.2,1035.0v-13" stroke-width="4.2"/><path d="M1531.4,57.0v27M1531.4,1035.0v-27" stroke-width="5.6"/><path d="M1580.6,57.0v13M1580.6,1035.0v-13" stroke-width="4.2"/><path d="M1629.8,57.0v13M1629.8,1035.0v-13" stroke-width="4.2"/><path d="M1678.9,57.0v13M1678.9,1035.0v-13" stroke-width="4.2"/><path d="M1728.1,57.0v13M1728.1,1035.0v-13" stroke-width="4.2"/><path d="M1777.3,57.0v27M1777.3,1035.0v-27" stroke-width="5.6"/><path d="M1826.5,57.0v13M1826.5,1035.0v-13" stroke-width="4.2"/><path d="M193.4,1035.0h27M1865.5,1035.0h-27" stroke-width="5.6"/><path d="M193.4,1004.4h13M1865.5,1004.4h-13" stroke-width="4.2"/><path d="M193.4,973.9h13M1865.5,973.9h-13" stroke-width="4.2"/><path d="M193.4,943.3h13M1865.5,943.3h-13" stroke-width="4.2"/><path d="M193.4,912.8h27M1865.5,912.8h-27" stroke-width="5.6"/><path d="M193.4,882.2h13M1865.5,882.2h-13" stroke-width="4.2"/><path d="M193.4,851.6h13M1865.5,851.6h-13" stroke-width="4.2"/><path d="M193.4,821.1h13M1865.5,821.1h-13" stroke-width="4.2"/><path d="M193.4,790.5h27M1865.5,790.5h-27" stroke-width="5.6"/><path d="M193.4,759.9h13M1865.5,759.9h-13" stroke-width="4.2"/><path d="M193.4,729.4h13M1865.5,729.4h-13" stroke-width="4.2"/><path d="M193.4,698.8h13M1865.5,698.8h-13" stroke-width="4.2"/><path d="M193.4,668.2h27M1865.5,668.2h-27" stroke-width="5.6"/><path d="M193.4,637.7h13M1865.5,637.7h-13" stroke-width="4.2"/><path d="M193.4,607.1h13M1865.5,607.1h-13" stroke-width="4.2"/><path d="M193.4,576.6h13M1865.5,576.6h-13" stroke-width="4.2"/><path d="M193.4,546.0h27M1865.5,546.0h-27" stroke-width="5.6"/><path d="M193.4,515.4h13M1865.5,515.4h-13" stroke-width="4.2"/><path d="M193.4,484.9h13M1865.5,484.9h-13" stroke-width="4.2"/><path d="M193.4,454.3h13M1865.5,454.3h-13" stroke-width="4.2"/><path d="M193.4,423.8h27M1865.5,423.8h-27" stroke-width="5.6"/><path d="M193.4,393.2h13M1865.5,393.2h-13" stroke-width="4.2"/><path d="M193.4,362.6h13M1865.5,362.6h-13" stroke-width="4.2"/><path d="M193.4,332.1h13M1865.5,332.1h-13" stroke-width="4.2"/><path d="M193.4,301.5h27M1865.5,301.5h-27" stroke-width="5.6"/><path d="M193.4,270.9h13M1865.5,270.9h-13" stroke-width="4.2"/><path d="M193.4,240.4h13M1865.5,240.4h-13" stroke-width="4.2"/><path d="M193.4,209.8h13M1865.5,209.8h-13" stroke-width="4.2"/><path d="M193.4,179.2h27M1865.5,179.2h-27" stroke-width="5.6"/><path d="M193.4,148.7h13M1865.5,148.7h-13" stroke-width="4.2"/><path d="M193.4,118.1h13M1865.5,118.1h-13" stroke-width="4.2"/><path d="M193.4,87.6h13M1865.5,87.6h-13" stroke-width="4.2"/><path d="M193.4,57.0h27M1865.5,57.0h-27" stroke-width="5.6"/></g>
<rect x="193.4" y="57.0" width="1672.1" height="978.0" fill="none" stroke="#1a1a1a" stroke-width="2.8"/>
<rect x="1026.2" y="87" width="810.6" height="107.3" rx="9" ry="9" fill="#fff" stroke="#ccc" stroke-width="2.2"/>
<path d="M1050.2,136H1169" stroke="#000" stroke-width="12.4" stroke-dasharray="44 19" fill="none"/>
<text x="1215.4" y="156.5" font-size="59.4" textLength="597.7" lengthAdjust="spacingAndGlyphs">mesopause altitude</text>
<rect x="1908.7" y="57.2" width="64.79999999999995" height="971.3999999999999" fill="url(#cb)" stroke="#333" stroke-width="1.7"/>
<g stroke="#000" fill="none"><path d="M1973.5,1028.6h30" stroke-width="11.5"/><path d="M1973.5,996.2h15" stroke-width="6"/><path d="M1973.5,963.8h15" stroke-width="6"/><path d="M1973.5,931.5h15" stroke-width="6"/><path d="M1973.5,899.1h15" stroke-width="6"/><path d="M1973.5,866.7h30" stroke-width="11.5"/><path d="M1973.5,834.3h15" stroke-width="6"/><path d="M1973.5,801.9h15" stroke-width="6"/><path d="M1973.5,769.6h15" stroke-width="6"/><path d="M1973.5,737.2h15" stroke-width="6"/><path d="M1973.5,704.8h30" stroke-width="11.5"/><path d="M1973.5,672.4h15" stroke-width="6"/><path d="M1973.5,640.0h15" stroke-width="6"/><path d="M1973.5,607.7h15" stroke-width="6"/><path d="M1973.5,575.3h15" stroke-width="6"/><path d="M1973.5,542.9h30" stroke-width="11.5"/><path d="M1973.5,510.5h15" stroke-width="6"/><path d="M1973.5,478.1h15" stroke-width="6"/><path d="M1973.5,445.8h15" stroke-width="6"/><path d="M1973.5,413.4h15" stroke-width="6"/><path d="M1973.5,381.0h30" stroke-width="11.5"/><path d="M1973.5,348.6h15" stroke-width="6"/><path d="M1973.5,316.2h15" stroke-width="6"/><path d="M1973.5,283.9h15" stroke-width="6"/><path d="M1973.5,251.5h15" stroke-width="6"/><path d="M1973.5,219.1h30" stroke-width="11.5"/><path d="M1973.5,186.7h15" stroke-width="6"/><path d="M1973.5,154.3h15" stroke-width="6"/><path d="M1973.5,122.0h15" stroke-width="6"/><path d="M1973.5,89.6h15" stroke-width="6"/><path d="M1973.5,57.2h30" stroke-width="11.5"/></g>
<text x="301.9" y="1095" font-size="66" text-anchor="middle">1860</text>
<text x="547.8" y="1095" font-size="66" text-anchor="middle">1885</text>
<text x="793.7" y="1095" font-size="66" text-anchor="middle">1910</text>
<text x="1039.6" y="1095" font-size="66" text-anchor="middle">1935</text>
<text x="1285.5" y="1095" font-size="66" text-anchor="middle">1960</text>
<text x="1531.4" y="1095" font-size="66" text-anchor="middle">1985</text>
<text x="1777.3" y="1095" font-size="66" text-anchor="middle">2010</text>
<text x="182.5" y="1060.8" font-size="66" text-anchor="end">78</text>
<text x="182.5" y="938.5" font-size="66" text-anchor="end">80</text>
<text x="182.5" y="816.3" font-size="66" text-anchor="end">82</text>
<text x="182.5" y="694.0" font-size="66" text-anchor="end">84</text>
<text x="182.5" y="571.8" font-size="66" text-anchor="end">86</text>
<text x="182.5" y="449.6" font-size="66" text-anchor="end">88</text>
<text x="182.5" y="327.3" font-size="66" text-anchor="end">90</text>
<text x="182.5" y="205.1" font-size="66" text-anchor="end">92</text>
<text x="182.5" y="82.8" font-size="66" text-anchor="end">94</text>
<text x="2014.5" y="1053.6" font-size="66">120</text>
<text x="2014.5" y="891.7" font-size="66">130</text>
<text x="2014.5" y="729.8" font-size="66">140</text>
<text x="2014.5" y="567.9" font-size="66">150</text>
<text x="2014.5" y="406.0" font-size="66">160</text>
<text x="2014.5" y="244.1" font-size="66">170</text>
<text x="2014.5" y="82.2" font-size="66">180</text>
<text x="1029.5" y="1170.5" font-size="66" text-anchor="middle">year</text>
<text transform="translate(71,547.0) rotate(-90)" font-size="66" text-anchor="middle">geometric altitude [km]</text>
<text transform="translate(2202.5,544.4) rotate(-90)" font-size="66" text-anchor="middle">temperature [K]</text>
</g>
</svg>
</div>
</body></html>
